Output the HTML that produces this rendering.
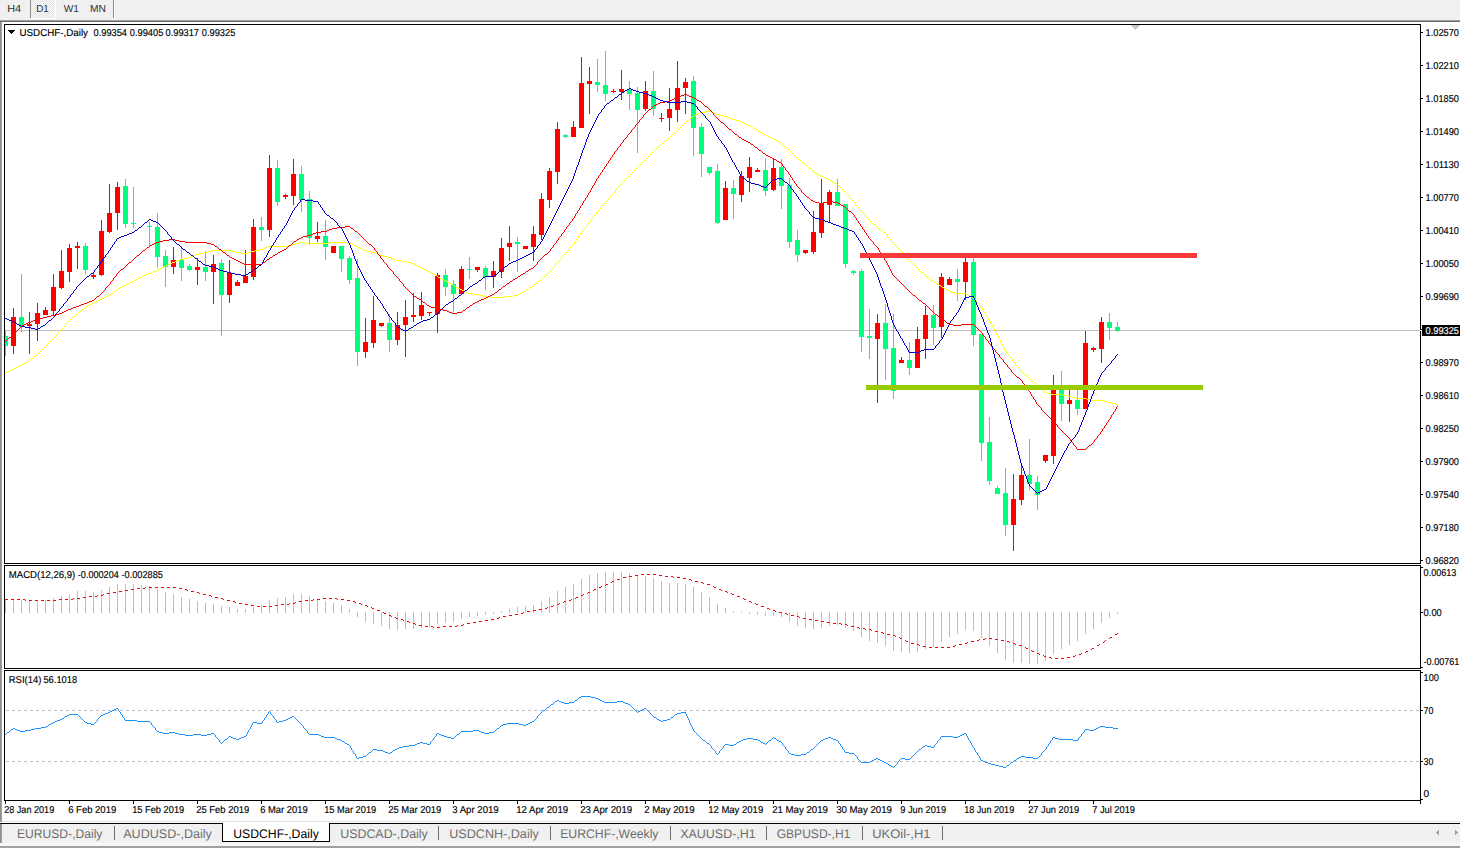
<!DOCTYPE html>
<html><head><meta charset="utf-8"><style>
html,body{margin:0;padding:0;background:#fff;width:1460px;height:848px;overflow:hidden}
svg{display:block;font-family:"Liberation Sans", sans-serif;text-rendering:geometricPrecision}
rect,line,polyline,polygon{shape-rendering:crispEdges}
</style></head><body>
<svg width="1460" height="848" viewBox="0 0 1460 848">
<defs>
<pattern id="dither" width="2" height="2" patternUnits="userSpaceOnUse"><rect width="2" height="2" fill="#f7f7f7"/><rect width="1" height="1" fill="#e6e6e6"/><rect x="1" y="1" width="1" height="1" fill="#e6e6e6"/></pattern>
<clipPath id="clipMain"><rect x="5" y="25" width="1415" height="538"/></clipPath>
<clipPath id="clipMacd"><rect x="5" y="566" width="1415" height="102"/></clipPath>
<clipPath id="clipRsi"><rect x="5" y="671" width="1415" height="129"/></clipPath>
</defs>
<rect x="0" y="0" width="1460" height="20" fill="#f0f0f0"/>
<rect x="0" y="20" width="1460" height="1" fill="#a0a0a0"/>
<rect x="0" y="21" width="1460" height="1" fill="#6d6d6d"/>
<rect x="0" y="22" width="2" height="800" fill="#a0a0a0"/>
<rect x="0" y="22" width="1" height="800" fill="#909090"/>
<rect x="30" y="0" width="1" height="18" fill="#8a8a8a"/>
<rect x="31" y="0" width="24" height="18" fill="url(#dither)"/>
<rect x="55" y="0" width="1" height="18" fill="#ffffff"/>
<rect x="31" y="18" width="25" height="1" fill="#ffffff"/>
<rect x="113" y="0" width="1" height="18" fill="#8a8a8a"/>
<rect x="114" y="0" width="1" height="18" fill="#ffffff"/>
<text x="7.2" y="12" font-size="10.2" fill="#303030" textLength="13.9" lengthAdjust="spacingAndGlyphs">H4</text>
<text x="36.199999999999996" y="12" font-size="10.2" fill="#303030" textLength="12.6" lengthAdjust="spacingAndGlyphs">D1</text>
<text x="63.699999999999996" y="12" font-size="10.2" fill="#303030" textLength="15.2" lengthAdjust="spacingAndGlyphs">W1</text>
<text x="90.0" y="12" font-size="10.2" fill="#303030" textLength="15.9" lengthAdjust="spacingAndGlyphs">MN</text>
<rect x="4" y="24" width="1417" height="1" fill="#000"/>
<rect x="4" y="563" width="1417" height="1" fill="#000"/>
<rect x="4" y="24" width="1" height="540" fill="#000"/>
<rect x="1420" y="24" width="1" height="540" fill="#000"/>
<rect x="4" y="565" width="1417" height="1" fill="#000"/>
<rect x="4" y="668" width="1417" height="1" fill="#000"/>
<rect x="4" y="565" width="1" height="104" fill="#000"/>
<rect x="1420" y="565" width="1" height="104" fill="#000"/>
<rect x="4" y="670" width="1417" height="1" fill="#000"/>
<rect x="4" y="800" width="1417" height="1" fill="#000"/>
<rect x="4" y="670" width="1" height="131" fill="#000"/>
<rect x="1420" y="670" width="1" height="131" fill="#000"/>
<g clip-path="url(#clipMain)">
<rect x="5" y="330" width="1415" height="1" fill="#c0c0c0"/>
<polygon points="1130,25 1140,25 1135,30" fill="#c8c8c8"/>
<rect x="5" y="330" width="1" height="26" fill="#00ff7f"/>
<rect x="3" y="336" width="5" height="10" fill="#00ff7f"/>
<rect x="13" y="308" width="1" height="46" fill="#ff0000"/>
<rect x="11" y="317" width="5" height="29" fill="#ff0000"/>
<rect x="21" y="274" width="1" height="58" fill="#00ff7f"/>
<rect x="19" y="317" width="5" height="10" fill="#00ff7f"/>
<rect x="29" y="312" width="1" height="42" fill="#ff0000"/>
<rect x="27" y="324" width="5" height="2" fill="#ff0000"/>
<rect x="37" y="303" width="1" height="38" fill="#ff0000"/>
<rect x="35" y="313" width="5" height="11" fill="#ff0000"/>
<rect x="45" y="307" width="1" height="8" fill="#ff0000"/>
<rect x="43" y="310" width="5" height="5" fill="#ff0000"/>
<rect x="53" y="274" width="1" height="42" fill="#ff0000"/>
<rect x="51" y="287" width="5" height="24" fill="#ff0000"/>
<rect x="61" y="250" width="1" height="39" fill="#ff0000"/>
<rect x="59" y="271" width="5" height="17" fill="#ff0000"/>
<rect x="69" y="244" width="1" height="38" fill="#ff0000"/>
<rect x="67" y="248" width="5" height="24" fill="#ff0000"/>
<rect x="77" y="242" width="1" height="27" fill="#ff0000"/>
<rect x="75" y="246" width="5" height="2" fill="#ff0000"/>
<rect x="85" y="243" width="1" height="31" fill="#00ff7f"/>
<rect x="83" y="246" width="5" height="24" fill="#00ff7f"/>
<rect x="93" y="272" width="1" height="7" fill="#ff0000"/>
<rect x="91" y="275" width="5" height="2" fill="#ff0000"/>
<rect x="101" y="220" width="1" height="56" fill="#ff0000"/>
<rect x="99" y="231" width="5" height="44" fill="#ff0000"/>
<rect x="109" y="184" width="1" height="49" fill="#ff0000"/>
<rect x="107" y="213" width="5" height="19" fill="#ff0000"/>
<rect x="117" y="182" width="1" height="48" fill="#ff0000"/>
<rect x="115" y="187" width="5" height="26" fill="#ff0000"/>
<rect x="125" y="179" width="1" height="49" fill="#00ff7f"/>
<rect x="123" y="186" width="5" height="38" fill="#00ff7f"/>
<rect x="133" y="187" width="1" height="41" fill="#00ff7f"/>
<rect x="131" y="223" width="5" height="1" fill="#00ff7f"/>
<rect x="149" y="222" width="1" height="25" fill="#00ff7f"/>
<rect x="147" y="226" width="5" height="1" fill="#00ff7f"/>
<rect x="157" y="213" width="1" height="55" fill="#00ff7f"/>
<rect x="155" y="227" width="5" height="30" fill="#00ff7f"/>
<rect x="165" y="250" width="1" height="37" fill="#00ff7f"/>
<rect x="163" y="256" width="5" height="11" fill="#00ff7f"/>
<rect x="173" y="247" width="1" height="27" fill="#ff0000"/>
<rect x="171" y="260" width="5" height="7" fill="#ff0000"/>
<rect x="181" y="246" width="1" height="35" fill="#00ff7f"/>
<rect x="179" y="260" width="5" height="8" fill="#00ff7f"/>
<rect x="189" y="264" width="1" height="7" fill="#00ff7f"/>
<rect x="187" y="266" width="5" height="4" fill="#00ff7f"/>
<rect x="197" y="258" width="1" height="27" fill="#ff0000"/>
<rect x="195" y="267" width="5" height="3" fill="#ff0000"/>
<rect x="205" y="251" width="1" height="30" fill="#00ff7f"/>
<rect x="203" y="267" width="5" height="5" fill="#00ff7f"/>
<rect x="213" y="255" width="1" height="49" fill="#ff0000"/>
<rect x="211" y="264" width="5" height="8" fill="#ff0000"/>
<rect x="221" y="259" width="1" height="77" fill="#00ff7f"/>
<rect x="219" y="263" width="5" height="32" fill="#00ff7f"/>
<rect x="229" y="260" width="1" height="43" fill="#ff0000"/>
<rect x="227" y="273" width="5" height="22" fill="#ff0000"/>
<rect x="237" y="280" width="1" height="6" fill="#ff0000"/>
<rect x="235" y="282" width="5" height="4" fill="#ff0000"/>
<rect x="245" y="250" width="1" height="33" fill="#ff0000"/>
<rect x="243" y="276" width="5" height="7" fill="#ff0000"/>
<rect x="253" y="219" width="1" height="61" fill="#ff0000"/>
<rect x="251" y="227" width="5" height="50" fill="#ff0000"/>
<rect x="261" y="217" width="1" height="24" fill="#00ff7f"/>
<rect x="259" y="227" width="5" height="3" fill="#00ff7f"/>
<rect x="269" y="155" width="1" height="82" fill="#ff0000"/>
<rect x="267" y="168" width="5" height="62" fill="#ff0000"/>
<rect x="277" y="160" width="1" height="46" fill="#00ff7f"/>
<rect x="275" y="168" width="5" height="34" fill="#00ff7f"/>
<rect x="285" y="194" width="1" height="5" fill="#ff0000"/>
<rect x="283" y="195" width="5" height="2" fill="#ff0000"/>
<rect x="293" y="159" width="1" height="46" fill="#ff0000"/>
<rect x="291" y="174" width="5" height="22" fill="#ff0000"/>
<rect x="301" y="166" width="1" height="46" fill="#00ff7f"/>
<rect x="299" y="174" width="5" height="26" fill="#00ff7f"/>
<rect x="309" y="191" width="1" height="54" fill="#00ff7f"/>
<rect x="307" y="199" width="5" height="39" fill="#00ff7f"/>
<rect x="317" y="222" width="1" height="20" fill="#ff0000"/>
<rect x="315" y="236" width="5" height="3" fill="#ff0000"/>
<rect x="325" y="220" width="1" height="40" fill="#00ff7f"/>
<rect x="323" y="236" width="5" height="11" fill="#00ff7f"/>
<rect x="333" y="246" width="1" height="7" fill="#ff0000"/>
<rect x="331" y="246" width="5" height="7" fill="#ff0000"/>
<rect x="341" y="246" width="1" height="26" fill="#00ff7f"/>
<rect x="339" y="246" width="5" height="13" fill="#00ff7f"/>
<rect x="349" y="256" width="1" height="28" fill="#00ff7f"/>
<rect x="347" y="258" width="5" height="22" fill="#00ff7f"/>
<rect x="357" y="259" width="1" height="107" fill="#00ff7f"/>
<rect x="355" y="278" width="5" height="74" fill="#00ff7f"/>
<rect x="365" y="318" width="1" height="40" fill="#ff0000"/>
<rect x="363" y="342" width="5" height="10" fill="#ff0000"/>
<rect x="373" y="296" width="1" height="52" fill="#ff0000"/>
<rect x="371" y="320" width="5" height="23" fill="#ff0000"/>
<rect x="381" y="323" width="1" height="4" fill="#ff0000"/>
<rect x="379" y="323" width="5" height="3" fill="#ff0000"/>
<rect x="389" y="314" width="1" height="38" fill="#00ff7f"/>
<rect x="387" y="323" width="5" height="17" fill="#00ff7f"/>
<rect x="397" y="312" width="1" height="33" fill="#ff0000"/>
<rect x="395" y="325" width="5" height="15" fill="#ff0000"/>
<rect x="405" y="300" width="1" height="57" fill="#ff0000"/>
<rect x="403" y="317" width="5" height="8" fill="#ff0000"/>
<rect x="413" y="293" width="1" height="29" fill="#ff0000"/>
<rect x="411" y="315" width="5" height="2" fill="#ff0000"/>
<rect x="421" y="292" width="1" height="28" fill="#ff0000"/>
<rect x="419" y="305" width="5" height="11" fill="#ff0000"/>
<rect x="429" y="312" width="1" height="4" fill="#ff0000"/>
<rect x="427" y="312" width="5" height="1" fill="#ff0000"/>
<rect x="437" y="273" width="1" height="60" fill="#ff0000"/>
<rect x="435" y="275" width="5" height="39" fill="#ff0000"/>
<rect x="445" y="269" width="1" height="27" fill="#00ff7f"/>
<rect x="443" y="275" width="5" height="12" fill="#00ff7f"/>
<rect x="453" y="280" width="1" height="32" fill="#00ff7f"/>
<rect x="451" y="284" width="5" height="10" fill="#00ff7f"/>
<rect x="461" y="266" width="1" height="28" fill="#ff0000"/>
<rect x="459" y="269" width="5" height="25" fill="#ff0000"/>
<rect x="469" y="257" width="1" height="22" fill="#00ff7f"/>
<rect x="467" y="269" width="5" height="1" fill="#00ff7f"/>
<rect x="477" y="267" width="1" height="5" fill="#ff0000"/>
<rect x="475" y="267" width="5" height="3" fill="#ff0000"/>
<rect x="485" y="266" width="1" height="24" fill="#00ff7f"/>
<rect x="483" y="268" width="5" height="9" fill="#00ff7f"/>
<rect x="493" y="261" width="1" height="27" fill="#ff0000"/>
<rect x="491" y="271" width="5" height="6" fill="#ff0000"/>
<rect x="501" y="238" width="1" height="40" fill="#ff0000"/>
<rect x="499" y="248" width="5" height="24" fill="#ff0000"/>
<rect x="509" y="226" width="1" height="35" fill="#ff0000"/>
<rect x="507" y="243" width="5" height="4" fill="#ff0000"/>
<rect x="517" y="237" width="1" height="35" fill="#00ff7f"/>
<rect x="515" y="242" width="5" height="2" fill="#00ff7f"/>
<rect x="525" y="246" width="1" height="3" fill="#ff0000"/>
<rect x="523" y="246" width="5" height="3" fill="#ff0000"/>
<rect x="533" y="226" width="1" height="35" fill="#ff0000"/>
<rect x="531" y="234" width="5" height="13" fill="#ff0000"/>
<rect x="541" y="193" width="1" height="47" fill="#ff0000"/>
<rect x="539" y="199" width="5" height="36" fill="#ff0000"/>
<rect x="549" y="168" width="1" height="40" fill="#ff0000"/>
<rect x="547" y="171" width="5" height="29" fill="#ff0000"/>
<rect x="557" y="122" width="1" height="62" fill="#ff0000"/>
<rect x="555" y="129" width="5" height="43" fill="#ff0000"/>
<rect x="565" y="134" width="1" height="4" fill="#00ff7f"/>
<rect x="563" y="135" width="5" height="2" fill="#00ff7f"/>
<rect x="573" y="121" width="1" height="16" fill="#ff0000"/>
<rect x="571" y="127" width="5" height="10" fill="#ff0000"/>
<rect x="581" y="57" width="1" height="71" fill="#ff0000"/>
<rect x="579" y="83" width="5" height="45" fill="#ff0000"/>
<rect x="589" y="67" width="1" height="47" fill="#ff0000"/>
<rect x="587" y="81" width="5" height="3" fill="#ff0000"/>
<rect x="597" y="59" width="1" height="33" fill="#00ff7f"/>
<rect x="595" y="82" width="5" height="3" fill="#00ff7f"/>
<rect x="605" y="51" width="1" height="50" fill="#00ff7f"/>
<rect x="603" y="85" width="5" height="9" fill="#00ff7f"/>
<rect x="613" y="89" width="1" height="4" fill="#ff0000"/>
<rect x="611" y="91" width="5" height="1" fill="#ff0000"/>
<rect x="621" y="70" width="1" height="30" fill="#ff0000"/>
<rect x="619" y="89" width="5" height="3" fill="#ff0000"/>
<rect x="629" y="81" width="1" height="29" fill="#00ff7f"/>
<rect x="627" y="89" width="5" height="5" fill="#00ff7f"/>
<rect x="637" y="87" width="1" height="66" fill="#00ff7f"/>
<rect x="635" y="93" width="5" height="17" fill="#00ff7f"/>
<rect x="645" y="81" width="1" height="30" fill="#ff0000"/>
<rect x="643" y="91" width="5" height="18" fill="#ff0000"/>
<rect x="653" y="71" width="1" height="45" fill="#00ff7f"/>
<rect x="651" y="91" width="5" height="18" fill="#00ff7f"/>
<rect x="661" y="113" width="1" height="9" fill="#ff0000"/>
<rect x="659" y="118" width="5" height="1" fill="#ff0000"/>
<rect x="669" y="88" width="1" height="43" fill="#ff0000"/>
<rect x="667" y="109" width="5" height="9" fill="#ff0000"/>
<rect x="677" y="61" width="1" height="61" fill="#ff0000"/>
<rect x="675" y="88" width="5" height="22" fill="#ff0000"/>
<rect x="685" y="78" width="1" height="36" fill="#ff0000"/>
<rect x="683" y="82" width="5" height="6" fill="#ff0000"/>
<rect x="693" y="76" width="1" height="80" fill="#00ff7f"/>
<rect x="691" y="81" width="5" height="47" fill="#00ff7f"/>
<rect x="701" y="123" width="1" height="54" fill="#00ff7f"/>
<rect x="699" y="127" width="5" height="27" fill="#00ff7f"/>
<rect x="709" y="167" width="1" height="8" fill="#00ff7f"/>
<rect x="707" y="167" width="5" height="6" fill="#00ff7f"/>
<rect x="717" y="164" width="1" height="60" fill="#00ff7f"/>
<rect x="715" y="171" width="5" height="52" fill="#00ff7f"/>
<rect x="725" y="181" width="1" height="39" fill="#ff0000"/>
<rect x="723" y="188" width="5" height="32" fill="#ff0000"/>
<rect x="733" y="180" width="1" height="39" fill="#00ff7f"/>
<rect x="731" y="188" width="5" height="6" fill="#00ff7f"/>
<rect x="741" y="171" width="1" height="31" fill="#ff0000"/>
<rect x="739" y="176" width="5" height="19" fill="#ff0000"/>
<rect x="749" y="157" width="1" height="35" fill="#ff0000"/>
<rect x="747" y="167" width="5" height="11" fill="#ff0000"/>
<rect x="757" y="168" width="1" height="4" fill="#ff0000"/>
<rect x="755" y="170" width="5" height="2" fill="#ff0000"/>
<rect x="765" y="158" width="1" height="38" fill="#00ff7f"/>
<rect x="763" y="170" width="5" height="21" fill="#00ff7f"/>
<rect x="773" y="159" width="1" height="32" fill="#ff0000"/>
<rect x="771" y="168" width="5" height="22" fill="#ff0000"/>
<rect x="781" y="159" width="1" height="50" fill="#00ff7f"/>
<rect x="779" y="167" width="5" height="19" fill="#00ff7f"/>
<rect x="789" y="178" width="1" height="70" fill="#00ff7f"/>
<rect x="787" y="185" width="5" height="57" fill="#00ff7f"/>
<rect x="797" y="230" width="1" height="32" fill="#00ff7f"/>
<rect x="795" y="240" width="5" height="15" fill="#00ff7f"/>
<rect x="805" y="250" width="1" height="4" fill="#ff0000"/>
<rect x="803" y="250" width="5" height="3" fill="#ff0000"/>
<rect x="813" y="211" width="1" height="43" fill="#ff0000"/>
<rect x="811" y="232" width="5" height="20" fill="#ff0000"/>
<rect x="821" y="179" width="1" height="59" fill="#ff0000"/>
<rect x="819" y="203" width="5" height="30" fill="#ff0000"/>
<rect x="829" y="190" width="1" height="32" fill="#ff0000"/>
<rect x="827" y="192" width="5" height="13" fill="#ff0000"/>
<rect x="837" y="179" width="1" height="27" fill="#00ff7f"/>
<rect x="835" y="192" width="5" height="14" fill="#00ff7f"/>
<rect x="845" y="204" width="1" height="64" fill="#00ff7f"/>
<rect x="843" y="204" width="5" height="60" fill="#00ff7f"/>
<rect x="853" y="270" width="1" height="5" fill="#00ff7f"/>
<rect x="851" y="271" width="5" height="2" fill="#00ff7f"/>
<rect x="861" y="269" width="1" height="83" fill="#00ff7f"/>
<rect x="859" y="271" width="5" height="66" fill="#00ff7f"/>
<rect x="869" y="309" width="1" height="50" fill="#00ff7f"/>
<rect x="867" y="336" width="5" height="2" fill="#00ff7f"/>
<rect x="877" y="314" width="1" height="89" fill="#ff0000"/>
<rect x="875" y="323" width="5" height="16" fill="#ff0000"/>
<rect x="885" y="304" width="1" height="76" fill="#00ff7f"/>
<rect x="883" y="323" width="5" height="26" fill="#00ff7f"/>
<rect x="893" y="314" width="1" height="85" fill="#00ff7f"/>
<rect x="891" y="348" width="5" height="43" fill="#00ff7f"/>
<rect x="901" y="357" width="1" height="6" fill="#ff0000"/>
<rect x="899" y="360" width="5" height="3" fill="#ff0000"/>
<rect x="909" y="342" width="1" height="33" fill="#00ff7f"/>
<rect x="907" y="360" width="5" height="8" fill="#00ff7f"/>
<rect x="917" y="327" width="1" height="41" fill="#ff0000"/>
<rect x="915" y="339" width="5" height="29" fill="#ff0000"/>
<rect x="925" y="306" width="1" height="53" fill="#ff0000"/>
<rect x="923" y="315" width="5" height="24" fill="#ff0000"/>
<rect x="933" y="305" width="1" height="40" fill="#00ff7f"/>
<rect x="931" y="315" width="5" height="13" fill="#00ff7f"/>
<rect x="941" y="273" width="1" height="65" fill="#ff0000"/>
<rect x="939" y="277" width="5" height="50" fill="#ff0000"/>
<rect x="949" y="277" width="1" height="8" fill="#ff0000"/>
<rect x="947" y="279" width="5" height="6" fill="#ff0000"/>
<rect x="957" y="269" width="1" height="32" fill="#00ff7f"/>
<rect x="955" y="279" width="5" height="3" fill="#00ff7f"/>
<rect x="965" y="258" width="1" height="42" fill="#ff0000"/>
<rect x="963" y="262" width="5" height="20" fill="#ff0000"/>
<rect x="973" y="258" width="1" height="88" fill="#00ff7f"/>
<rect x="971" y="262" width="5" height="73" fill="#00ff7f"/>
<rect x="981" y="334" width="1" height="127" fill="#00ff7f"/>
<rect x="979" y="334" width="5" height="109" fill="#00ff7f"/>
<rect x="989" y="417" width="1" height="68" fill="#00ff7f"/>
<rect x="987" y="442" width="5" height="39" fill="#00ff7f"/>
<rect x="997" y="486" width="1" height="8" fill="#00ff7f"/>
<rect x="995" y="488" width="5" height="6" fill="#00ff7f"/>
<rect x="1005" y="468" width="1" height="68" fill="#00ff7f"/>
<rect x="1003" y="493" width="5" height="32" fill="#00ff7f"/>
<rect x="1013" y="474" width="1" height="77" fill="#ff0000"/>
<rect x="1011" y="499" width="5" height="26" fill="#ff0000"/>
<rect x="1021" y="466" width="1" height="39" fill="#ff0000"/>
<rect x="1019" y="475" width="5" height="25" fill="#ff0000"/>
<rect x="1029" y="439" width="1" height="51" fill="#00ff7f"/>
<rect x="1027" y="475" width="5" height="9" fill="#00ff7f"/>
<rect x="1037" y="476" width="1" height="34" fill="#00ff7f"/>
<rect x="1035" y="482" width="5" height="13" fill="#00ff7f"/>
<rect x="1045" y="455" width="1" height="8" fill="#ff0000"/>
<rect x="1043" y="455" width="5" height="6" fill="#ff0000"/>
<rect x="1053" y="375" width="1" height="89" fill="#ff0000"/>
<rect x="1051" y="390" width="5" height="66" fill="#ff0000"/>
<rect x="1061" y="371" width="1" height="50" fill="#00ff7f"/>
<rect x="1059" y="386" width="5" height="18" fill="#00ff7f"/>
<rect x="1069" y="386" width="1" height="36" fill="#ff0000"/>
<rect x="1067" y="400" width="5" height="4" fill="#ff0000"/>
<rect x="1077" y="388" width="1" height="27" fill="#00ff7f"/>
<rect x="1075" y="400" width="5" height="9" fill="#00ff7f"/>
<rect x="1085" y="331" width="1" height="78" fill="#ff0000"/>
<rect x="1083" y="343" width="5" height="66" fill="#ff0000"/>
<rect x="1093" y="347" width="1" height="5" fill="#ff0000"/>
<rect x="1091" y="348" width="5" height="2" fill="#ff0000"/>
<rect x="1101" y="317" width="1" height="46" fill="#ff0000"/>
<rect x="1099" y="322" width="5" height="27" fill="#ff0000"/>
<rect x="1109" y="313" width="1" height="27" fill="#00ff7f"/>
<rect x="1107" y="322" width="5" height="6" fill="#00ff7f"/>
<rect x="1117" y="322" width="1" height="10" fill="#00ff7f"/>
<rect x="1115" y="327" width="5" height="4" fill="#00ff7f"/>
<path d="M705 111h6v1h-6zM700 112h5v1h-5zM711 112h2v1h-2zM698 113h2v1h-2zM713 113h3v1h-3zM696 114h2v1h-2zM716 114h3v1h-3zM694 115h2v1h-2zM719 115h4v1h-4zM693 116h1v1h-1zM723 116h4v1h-4zM691 117h2v1h-2zM727 117h2v1h-2zM690 118h1v1h-1zM729 118h3v1h-3zM689 119h1v1h-1zM732 119h3v1h-3zM687 120h2v1h-2zM735 120h4v1h-4zM686 121h1v1h-1zM739 121h3v1h-3zM685 122h1v1h-1zM742 122h2v1h-2zM684 123h1v1h-1zM744 123h2v1h-2zM683 124h1v1h-1zM746 124h2v1h-2zM682 125h1v1h-1zM748 125h2v1h-2zM681 126h1v1h-1zM750 126h2v1h-2zM680 127h1v1h-1zM752 127h1v1h-1zM679 128h1v1h-1zM753 128h2v1h-2zM678 129h1v1h-1zM755 129h2v1h-2zM677 130h1v1h-1zM757 130h1v1h-1zM676 131h1v1h-1zM758 131h2v1h-2zM675 132h1v1h-1zM760 132h1v1h-1zM673 133h2v1h-2zM761 133h2v1h-2zM672 134h1v1h-1zM763 134h2v1h-2zM671 135h1v1h-1zM765 135h2v1h-2zM670 136h1v1h-1zM767 136h2v1h-2zM669 137h1v1h-1zM769 137h3v1h-3zM668 138h1v1h-1zM772 138h2v1h-2zM667 139h1v1h-1zM774 139h2v1h-2zM665 140h2v1h-2zM776 140h1v1h-1zM664 141h1v1h-1zM777 141h2v1h-2zM663 142h1v1h-1zM779 142h2v1h-2zM662 143h1v1h-1zM781 143h1v1h-1zM661 144h1v1h-1zM782 144h1v1h-1zM660 145h1v1h-1zM783 145h1v1h-1zM659 146h1v1h-1zM784 146h1v1h-1zM657 147h2v1h-2zM785 147h2v1h-2zM656 148h1v1h-1zM787 148h1v1h-1zM655 149h1v1h-1zM788 149h1v1h-1zM654 150h1v1h-1zM789 150h1v1h-1zM653 151h1v1h-1zM790 151h1v1h-1zM652 152h1v1h-1zM791 152h1v1h-1zM651 153h1v1h-1zM792 153h1v1h-1zM650 154h1v1h-1zM793 154h1v1h-1zM649 155h1v1h-1zM794 155h1v1h-1zM648 156h1v1h-1zM795 156h1v1h-1zM647 157h1v1h-1zM796 157h1v1h-1zM646 158h1v1h-1zM797 158h1v1h-1zM645 159h1v1h-1zM798 159h1v1h-1zM644 160h1v1h-1zM799 160h2v1h-2zM643 161h1v1h-1zM801 161h1v1h-1zM642 162h1v1h-1zM802 162h1v1h-1zM641 163h1v1h-1zM803 163h2v1h-2zM640 164h1v1h-1zM805 164h1v1h-1zM639 165h1v1h-1zM806 165h1v1h-1zM638 166h1v1h-1zM807 166h1v1h-1zM637 167h1v1h-1zM808 167h1v1h-1zM636 168h1v1h-1zM809 168h2v1h-2zM635 169h1v1h-1zM811 169h1v1h-1zM634 170h1v1h-1zM812 170h1v1h-1zM633 171h1v1h-1zM813 171h1v1h-1zM632 172h1v1h-1zM814 172h2v1h-2zM631 173h1v1h-1zM816 173h1v1h-1zM630 174h1v1h-1zM817 174h2v1h-2zM629 175h1v1h-1zM819 175h2v1h-2zM628 176h1v1h-1zM821 176h2v1h-2zM627 177h1v1h-1zM823 177h2v1h-2zM626 178h1v1h-1zM825 178h3v1h-3zM625 179h1v1h-1zM828 179h2v1h-2zM624 180h1v1h-1zM830 180h2v1h-2zM623 181h1v1h-1zM832 181h1v1h-1zM622 182h1v1h-1zM833 182h2v1h-2zM621 183h1v1h-1zM835 183h2v1h-2zM620 184h1v1h-1zM837 184h1v1h-1zM619 185h1v1h-1zM838 185h1v1h-1zM619 186h1v1h-1zM839 186h1v1h-1zM618 187h1v1h-1zM840 187h1v1h-1zM617 188h1v1h-1zM841 188h1v1h-1zM616 189h1v1h-1zM842 189h1v1h-1zM615 190h1v1h-1zM843 190h1v1h-1zM615 191h1v1h-1zM844 191h1v1h-1zM614 192h1v1h-1zM845 192h1v1h-1zM613 193h1v1h-1zM846 193h1v1h-1zM612 194h1v1h-1zM847 194h1v1h-1zM611 195h1v1h-1zM848 195h1v1h-1zM610 196h1v1h-1zM849 196h1v1h-1zM609 197h1v1h-1zM849 197h1v1h-1zM609 198h1v1h-1zM850 198h1v1h-1zM608 199h1v1h-1zM851 199h1v1h-1zM607 200h1v1h-1zM852 200h1v1h-1zM606 201h1v1h-1zM853 201h1v1h-1zM605 202h1v1h-1zM854 202h1v1h-1zM604 203h1v1h-1zM855 203h1v1h-1zM603 204h1v1h-1zM855 204h1v1h-1zM602 205h1v1h-1zM856 205h1v1h-1zM601 206h1v1h-1zM857 206h1v1h-1zM601 207h1v1h-1zM858 207h1v1h-1zM600 208h1v1h-1zM859 208h1v1h-1zM599 209h1v1h-1zM859 209h1v1h-1zM598 210h1v1h-1zM860 210h1v1h-1zM597 211h1v1h-1zM861 211h1v1h-1zM596 212h1v1h-1zM862 212h1v1h-1zM596 213h1v1h-1zM863 213h1v1h-1zM595 214h1v1h-1zM864 214h1v1h-1zM594 215h1v1h-1zM865 215h1v1h-1zM593 216h1v1h-1zM865 216h1v1h-1zM593 217h1v1h-1zM866 217h1v1h-1zM592 218h1v1h-1zM867 218h1v1h-1zM591 219h1v1h-1zM868 219h1v1h-1zM590 220h1v1h-1zM869 220h1v1h-1zM590 221h1v1h-1zM870 221h1v1h-1zM589 222h1v1h-1zM871 222h1v1h-1zM588 223h1v1h-1zM872 223h1v1h-1zM587 224h1v1h-1zM873 224h2v1h-2zM587 225h1v1h-1zM875 225h1v1h-1zM586 226h1v1h-1zM876 226h1v1h-1zM585 227h1v1h-1zM877 227h1v1h-1zM584 228h1v1h-1zM878 228h1v1h-1zM583 229h1v1h-1zM879 229h2v1h-2zM583 230h1v1h-1zM881 230h1v1h-1zM582 231h1v1h-1zM882 231h1v1h-1zM581 232h1v1h-1zM883 232h2v1h-2zM580 233h1v1h-1zM885 233h1v1h-1zM580 234h1v1h-1zM886 234h1v1h-1zM579 235h1v1h-1zM887 235h1v1h-1zM578 236h1v1h-1zM887 236h1v1h-1zM578 237h1v1h-1zM888 237h1v1h-1zM577 238h1v1h-1zM889 238h1v1h-1zM576 239h1v1h-1zM890 239h1v1h-1zM576 240h1v1h-1zM891 240h1v1h-1zM575 241h1v1h-1zM891 241h1v1h-1zM299 242h6v1h-6zM329 242h21v1h-21zM574 242h1v1h-1zM892 242h1v1h-1zM295 243h4v1h-4zM305 243h24v1h-24zM350 243h2v1h-2zM574 243h1v1h-1zM893 243h1v1h-1zM291 244h4v1h-4zM352 244h2v1h-2zM573 244h1v1h-1zM894 244h1v1h-1zM287 245h4v1h-4zM354 245h2v1h-2zM572 245h1v1h-1zM895 245h1v1h-1zM268 246h19v1h-19zM356 246h2v1h-2zM571 246h1v1h-1zM896 246h1v1h-1zM265 247h3v1h-3zM358 247h2v1h-2zM570 247h1v1h-1zM897 247h1v1h-1zM263 248h2v1h-2zM360 248h2v1h-2zM569 248h1v1h-1zM898 248h1v1h-1zM259 249h4v1h-4zM362 249h2v1h-2zM569 249h1v1h-1zM899 249h1v1h-1zM211 250h20v1h-20zM255 250h4v1h-4zM364 250h3v1h-3zM568 250h1v1h-1zM900 250h1v1h-1zM207 251h4v1h-4zM231 251h4v1h-4zM251 251h4v1h-4zM367 251h4v1h-4zM567 251h1v1h-1zM901 251h1v1h-1zM203 252h4v1h-4zM235 252h6v1h-6zM247 252h4v1h-4zM371 252h4v1h-4zM566 252h1v1h-1zM902 252h1v1h-1zM199 253h4v1h-4zM241 253h6v1h-6zM375 253h2v1h-2zM565 253h1v1h-1zM903 253h1v1h-1zM196 254h3v1h-3zM377 254h3v1h-3zM564 254h1v1h-1zM904 254h1v1h-1zM193 255h3v1h-3zM380 255h3v1h-3zM563 255h1v1h-1zM905 255h1v1h-1zM191 256h2v1h-2zM383 256h4v1h-4zM562 256h1v1h-1zM905 256h1v1h-1zM187 257h4v1h-4zM387 257h4v1h-4zM561 257h1v1h-1zM906 257h1v1h-1zM183 258h4v1h-4zM391 258h2v1h-2zM561 258h1v1h-1zM907 258h1v1h-1zM180 259h3v1h-3zM393 259h3v1h-3zM560 259h1v1h-1zM908 259h1v1h-1zM177 260h3v1h-3zM396 260h5v1h-5zM559 260h1v1h-1zM909 260h1v1h-1zM175 261h2v1h-2zM401 261h6v1h-6zM558 261h1v1h-1zM910 261h1v1h-1zM172 262h3v1h-3zM407 262h4v1h-4zM557 262h1v1h-1zM911 262h1v1h-1zM170 263h2v1h-2zM411 263h3v1h-3zM556 263h1v1h-1zM912 263h1v1h-1zM168 264h2v1h-2zM414 264h2v1h-2zM555 264h1v1h-1zM913 264h1v1h-1zM166 265h2v1h-2zM416 265h2v1h-2zM555 265h1v1h-1zM914 265h1v1h-1zM164 266h2v1h-2zM418 266h2v1h-2zM554 266h1v1h-1zM915 266h1v1h-1zM162 267h2v1h-2zM420 267h2v1h-2zM553 267h1v1h-1zM916 267h1v1h-1zM160 268h2v1h-2zM422 268h2v1h-2zM552 268h1v1h-1zM917 268h1v1h-1zM158 269h2v1h-2zM424 269h2v1h-2zM551 269h1v1h-1zM918 269h1v1h-1zM156 270h2v1h-2zM426 270h2v1h-2zM551 270h1v1h-1zM919 270h1v1h-1zM153 271h3v1h-3zM428 271h2v1h-2zM550 271h1v1h-1zM920 271h1v1h-1zM151 272h2v1h-2zM430 272h2v1h-2zM549 272h1v1h-1zM921 272h2v1h-2zM148 273h3v1h-3zM432 273h1v1h-1zM548 273h1v1h-1zM923 273h1v1h-1zM146 274h2v1h-2zM433 274h2v1h-2zM547 274h1v1h-1zM924 274h1v1h-1zM144 275h2v1h-2zM435 275h2v1h-2zM545 275h2v1h-2zM925 275h1v1h-1zM142 276h2v1h-2zM437 276h1v1h-1zM544 276h1v1h-1zM926 276h1v1h-1zM140 277h2v1h-2zM438 277h2v1h-2zM543 277h1v1h-1zM927 277h2v1h-2zM138 278h2v1h-2zM440 278h2v1h-2zM542 278h1v1h-1zM929 278h1v1h-1zM136 279h2v1h-2zM442 279h2v1h-2zM541 279h1v1h-1zM930 279h1v1h-1zM134 280h2v1h-2zM444 280h2v1h-2zM539 280h2v1h-2zM931 280h2v1h-2zM132 281h2v1h-2zM446 281h2v1h-2zM538 281h1v1h-1zM933 281h1v1h-1zM130 282h2v1h-2zM448 282h1v1h-1zM537 282h1v1h-1zM934 282h2v1h-2zM128 283h2v1h-2zM449 283h2v1h-2zM535 283h2v1h-2zM936 283h1v1h-1zM126 284h2v1h-2zM451 284h2v1h-2zM534 284h1v1h-1zM937 284h2v1h-2zM124 285h2v1h-2zM453 285h1v1h-1zM533 285h1v1h-1zM939 285h2v1h-2zM122 286h2v1h-2zM454 286h2v1h-2zM531 286h2v1h-2zM941 286h1v1h-1zM120 287h2v1h-2zM456 287h2v1h-2zM529 287h2v1h-2zM942 287h2v1h-2zM118 288h2v1h-2zM458 288h2v1h-2zM528 288h1v1h-1zM944 288h1v1h-1zM117 289h1v1h-1zM460 289h2v1h-2zM526 289h2v1h-2zM945 289h2v1h-2zM115 290h2v1h-2zM462 290h2v1h-2zM525 290h1v1h-1zM947 290h2v1h-2zM114 291h1v1h-1zM464 291h2v1h-2zM523 291h2v1h-2zM949 291h2v1h-2zM113 292h1v1h-1zM466 292h2v1h-2zM521 292h2v1h-2zM951 292h4v1h-4zM111 293h2v1h-2zM468 293h5v1h-5zM520 293h1v1h-1zM955 293h11v1h-11zM110 294h1v1h-1zM473 294h6v1h-6zM518 294h2v1h-2zM966 294h2v1h-2zM108 295h2v1h-2zM479 295h4v1h-4zM513 295h5v1h-5zM968 295h2v1h-2zM106 296h2v1h-2zM483 296h6v1h-6zM505 296h8v1h-8zM970 296h2v1h-2zM104 297h2v1h-2zM489 297h16v1h-16zM972 297h2v1h-2zM102 298h2v1h-2zM974 298h1v1h-1zM100 299h2v1h-2zM975 299h1v1h-1zM98 300h2v1h-2zM975 300h1v1h-1zM96 301h2v1h-2zM976 301h1v1h-1zM94 302h2v1h-2zM977 302h1v1h-1zM92 303h2v1h-2zM978 303h1v1h-1zM90 304h2v1h-2zM979 304h1v1h-1zM88 305h2v1h-2zM979 305h1v1h-1zM86 306h2v1h-2zM980 306h1v1h-1zM85 307h1v1h-1zM981 307h1v1h-1zM83 308h2v1h-2zM982 308h1v1h-1zM82 309h1v1h-1zM982 309h1v1h-1zM81 310h1v1h-1zM983 310h1v1h-1zM79 311h2v1h-2zM983 311h1v1h-1zM78 312h1v1h-1zM984 312h1v1h-1zM77 313h1v1h-1zM985 313h1v1h-1zM76 314h1v1h-1zM985 314h1v1h-1zM75 315h1v1h-1zM986 315h1v1h-1zM73 316h2v1h-2zM987 316h1v1h-1zM72 317h1v1h-1zM987 317h1v1h-1zM71 318h1v1h-1zM988 318h1v1h-1zM70 319h1v1h-1zM988 319h1v1h-1zM69 320h1v1h-1zM989 320h1v1h-1zM68 321h1v1h-1zM990 321h1v1h-1zM67 322h1v1h-1zM990 322h1v1h-1zM66 323h1v1h-1zM991 323h1v1h-1zM65 324h1v1h-1zM991 324h1v1h-1zM65 325h1v1h-1zM992 325h1v1h-1zM64 326h1v1h-1zM992 326h1v1h-1zM63 327h1v1h-1zM993 327h1v1h-1zM62 328h1v1h-1zM993 328h1v1h-1zM61 329h1v1h-1zM994 329h1v1h-1zM60 330h1v1h-1zM994 330h1v1h-1zM59 331h1v1h-1zM995 331h1v1h-1zM58 332h1v1h-1zM995 332h1v1h-1zM57 333h1v1h-1zM996 333h1v1h-1zM57 334h1v1h-1zM996 334h1v1h-1zM56 335h1v1h-1zM997 335h1v1h-1zM55 336h1v1h-1zM998 336h1v1h-1zM54 337h1v1h-1zM998 337h1v1h-1zM53 338h1v1h-1zM999 338h1v1h-1zM52 339h1v1h-1zM999 339h1v1h-1zM51 340h1v1h-1zM1000 340h1v1h-1zM50 341h1v1h-1zM1000 341h1v1h-1zM49 342h1v1h-1zM1001 342h1v1h-1zM48 343h1v1h-1zM1001 343h1v1h-1zM47 344h1v1h-1zM1002 344h1v1h-1zM46 345h1v1h-1zM1002 345h1v1h-1zM45 346h1v1h-1zM1003 346h1v1h-1zM44 347h1v1h-1zM1003 347h1v1h-1zM43 348h1v1h-1zM1004 348h1v1h-1zM42 349h1v1h-1zM1004 349h1v1h-1zM41 350h1v1h-1zM1005 350h1v1h-1zM40 351h1v1h-1zM1006 351h1v1h-1zM39 352h1v1h-1zM1006 352h1v1h-1zM38 353h1v1h-1zM1007 353h1v1h-1zM37 354h1v1h-1zM1008 354h1v1h-1zM35 355h2v1h-2zM1009 355h1v1h-1zM34 356h1v1h-1zM1009 356h1v1h-1zM33 357h1v1h-1zM1010 357h1v1h-1zM31 358h2v1h-2zM1011 358h1v1h-1zM30 359h1v1h-1zM1012 359h1v1h-1zM29 360h1v1h-1zM1012 360h1v1h-1zM27 361h2v1h-2zM1013 361h1v1h-1zM25 362h2v1h-2zM1014 362h1v1h-1zM24 363h1v1h-1zM1015 363h1v1h-1zM22 364h2v1h-2zM1015 364h1v1h-1zM20 365h2v1h-2zM1016 365h1v1h-1zM18 366h2v1h-2zM1017 366h1v1h-1zM16 367h2v1h-2zM1018 367h1v1h-1zM14 368h2v1h-2zM1019 368h1v1h-1zM12 369h2v1h-2zM1019 369h1v1h-1zM9 370h3v1h-3zM1020 370h1v1h-1zM7 371h2v1h-2zM1021 371h1v1h-1zM5 372h2v1h-2zM1022 372h1v1h-1zM1023 373h1v1h-1zM1024 374h1v1h-1zM1025 375h2v1h-2zM1027 376h1v1h-1zM1028 377h1v1h-1zM1029 378h1v1h-1zM1030 379h1v1h-1zM1031 380h1v1h-1zM1032 381h1v1h-1zM1033 382h2v1h-2zM1035 383h1v1h-1zM1036 384h1v1h-1zM1037 385h1v1h-1zM1038 386h1v1h-1zM1039 387h1v1h-1zM1040 388h1v1h-1zM1041 389h2v1h-2zM1043 390h1v1h-1zM1044 391h1v1h-1zM1045 392h2v1h-2zM1047 393h4v1h-4zM1051 394h12v1h-12zM1063 395h4v1h-4zM1067 396h4v1h-4zM1071 397h4v1h-4zM1075 398h12v1h-12zM1087 399h4v1h-4zM1091 400h12v1h-12zM1103 401h4v1h-4zM1107 402h4v1h-4zM1111 403h4v1h-4zM1115 404h3v1h-3z" fill="#ffff00"/>
<path d="M684 94h3v1h-3zM681 95h3v1h-3zM687 95h2v1h-2zM679 96h2v1h-2zM689 96h3v1h-3zM676 97h3v1h-3zM692 97h2v1h-2zM674 98h2v1h-2zM694 98h2v1h-2zM672 99h2v1h-2zM696 99h1v1h-1zM670 100h2v1h-2zM697 100h2v1h-2zM665 101h5v1h-5zM699 101h2v1h-2zM660 102h5v1h-5zM701 102h1v1h-1zM658 103h2v1h-2zM702 103h1v1h-1zM656 104h2v1h-2zM703 104h1v1h-1zM654 105h2v1h-2zM704 105h1v1h-1zM653 106h1v1h-1zM705 106h2v1h-2zM652 107h1v1h-1zM707 107h1v1h-1zM651 108h1v1h-1zM708 108h1v1h-1zM649 109h2v1h-2zM709 109h1v1h-1zM648 110h1v1h-1zM710 110h1v1h-1zM647 111h1v1h-1zM711 111h1v1h-1zM646 112h1v1h-1zM712 112h1v1h-1zM645 113h1v1h-1zM713 113h1v1h-1zM644 114h1v1h-1zM713 114h1v1h-1zM643 115h1v1h-1zM714 115h1v1h-1zM643 116h1v1h-1zM715 116h1v1h-1zM642 117h1v1h-1zM716 117h1v1h-1zM641 118h1v1h-1zM717 118h1v1h-1zM640 119h1v1h-1zM718 119h1v1h-1zM639 120h1v1h-1zM719 120h1v1h-1zM639 121h1v1h-1zM720 121h1v1h-1zM638 122h1v1h-1zM721 122h2v1h-2zM637 123h1v1h-1zM723 123h1v1h-1zM636 124h1v1h-1zM724 124h1v1h-1zM635 125h1v1h-1zM725 125h1v1h-1zM635 126h1v1h-1zM726 126h1v1h-1zM634 127h1v1h-1zM727 127h1v1h-1zM633 128h1v1h-1zM728 128h1v1h-1zM632 129h1v1h-1zM729 129h2v1h-2zM631 130h1v1h-1zM731 130h1v1h-1zM631 131h1v1h-1zM732 131h1v1h-1zM630 132h1v1h-1zM733 132h1v1h-1zM629 133h1v1h-1zM734 133h1v1h-1zM628 134h1v1h-1zM735 134h2v1h-2zM627 135h1v1h-1zM737 135h1v1h-1zM627 136h1v1h-1zM738 136h1v1h-1zM626 137h1v1h-1zM739 137h2v1h-2zM625 138h1v1h-1zM741 138h1v1h-1zM624 139h1v1h-1zM742 139h2v1h-2zM623 140h1v1h-1zM744 140h2v1h-2zM623 141h1v1h-1zM746 141h2v1h-2zM622 142h1v1h-1zM748 142h2v1h-2zM621 143h1v1h-1zM750 143h1v1h-1zM620 144h1v1h-1zM751 144h2v1h-2zM620 145h1v1h-1zM753 145h1v1h-1zM619 146h1v1h-1zM754 146h1v1h-1zM618 147h1v1h-1zM755 147h2v1h-2zM617 148h1v1h-1zM757 148h1v1h-1zM617 149h1v1h-1zM758 149h1v1h-1zM616 150h1v1h-1zM759 150h2v1h-2zM615 151h1v1h-1zM761 151h1v1h-1zM614 152h1v1h-1zM762 152h1v1h-1zM614 153h1v1h-1zM763 153h2v1h-2zM613 154h1v1h-1zM765 154h1v1h-1zM612 155h1v1h-1zM766 155h2v1h-2zM612 156h1v1h-1zM768 156h2v1h-2zM611 157h1v1h-1zM770 157h2v1h-2zM610 158h1v1h-1zM772 158h2v1h-2zM610 159h1v1h-1zM774 159h2v1h-2zM609 160h1v1h-1zM776 160h1v1h-1zM608 161h1v1h-1zM777 161h2v1h-2zM608 162h1v1h-1zM779 162h2v1h-2zM607 163h1v1h-1zM781 163h1v1h-1zM606 164h1v1h-1zM782 164h1v1h-1zM606 165h1v1h-1zM782 165h1v1h-1zM605 166h1v1h-1zM783 166h1v1h-1zM604 167h1v1h-1zM784 167h1v1h-1zM604 168h1v1h-1zM785 168h1v1h-1zM603 169h1v1h-1zM785 169h1v1h-1zM602 170h1v1h-1zM786 170h1v1h-1zM602 171h1v1h-1zM787 171h1v1h-1zM601 172h1v1h-1zM788 172h1v1h-1zM600 173h1v1h-1zM788 173h1v1h-1zM600 174h1v1h-1zM789 174h1v1h-1zM599 175h1v1h-1zM790 175h1v1h-1zM598 176h1v1h-1zM790 176h1v1h-1zM598 177h1v1h-1zM791 177h1v1h-1zM597 178h1v1h-1zM792 178h1v1h-1zM596 179h1v1h-1zM792 179h1v1h-1zM596 180h1v1h-1zM793 180h1v1h-1zM595 181h1v1h-1zM794 181h1v1h-1zM595 182h1v1h-1zM794 182h1v1h-1zM594 183h1v1h-1zM795 183h1v1h-1zM594 184h1v1h-1zM796 184h1v1h-1zM593 185h1v1h-1zM796 185h1v1h-1zM592 186h1v1h-1zM797 186h1v1h-1zM592 187h1v1h-1zM798 187h1v1h-1zM591 188h1v1h-1zM799 188h1v1h-1zM591 189h1v1h-1zM800 189h1v1h-1zM590 190h1v1h-1zM801 190h1v1h-1zM590 191h1v1h-1zM801 191h1v1h-1zM589 192h1v1h-1zM802 192h1v1h-1zM588 193h1v1h-1zM803 193h1v1h-1zM588 194h1v1h-1zM804 194h1v1h-1zM587 195h1v1h-1zM805 195h1v1h-1zM587 196h1v1h-1zM806 196h1v1h-1zM586 197h1v1h-1zM807 197h2v1h-2zM585 198h1v1h-1zM809 198h1v1h-1zM585 199h1v1h-1zM810 199h1v1h-1zM584 200h1v1h-1zM811 200h2v1h-2zM583 201h1v1h-1zM813 201h2v1h-2zM827 201h6v1h-6zM583 202h1v1h-1zM815 202h4v1h-4zM823 202h4v1h-4zM833 202h5v1h-5zM582 203h1v1h-1zM819 203h4v1h-4zM838 203h2v1h-2zM582 204h1v1h-1zM840 204h1v1h-1zM581 205h1v1h-1zM841 205h2v1h-2zM580 206h1v1h-1zM843 206h2v1h-2zM580 207h1v1h-1zM845 207h1v1h-1zM579 208h1v1h-1zM846 208h1v1h-1zM579 209h1v1h-1zM847 209h1v1h-1zM578 210h1v1h-1zM848 210h1v1h-1zM577 211h1v1h-1zM849 211h2v1h-2zM577 212h1v1h-1zM851 212h1v1h-1zM576 213h1v1h-1zM852 213h1v1h-1zM575 214h1v1h-1zM853 214h1v1h-1zM575 215h1v1h-1zM854 215h1v1h-1zM574 216h1v1h-1zM854 216h1v1h-1zM574 217h1v1h-1zM855 217h1v1h-1zM573 218h1v1h-1zM856 218h1v1h-1zM572 219h1v1h-1zM856 219h1v1h-1zM572 220h1v1h-1zM857 220h1v1h-1zM571 221h1v1h-1zM858 221h1v1h-1zM570 222h1v1h-1zM858 222h1v1h-1zM569 223h1v1h-1zM859 223h1v1h-1zM569 224h1v1h-1zM860 224h1v1h-1zM568 225h1v1h-1zM860 225h1v1h-1zM345 226h5v1h-5zM567 226h1v1h-1zM861 226h1v1h-1zM337 227h8v1h-8zM350 227h1v1h-1zM566 227h1v1h-1zM862 227h1v1h-1zM332 228h5v1h-5zM351 228h2v1h-2zM566 228h1v1h-1zM862 228h1v1h-1zM329 229h3v1h-3zM353 229h1v1h-1zM565 229h1v1h-1zM863 229h1v1h-1zM327 230h2v1h-2zM354 230h1v1h-1zM564 230h1v1h-1zM864 230h1v1h-1zM321 231h6v1h-6zM355 231h2v1h-2zM564 231h1v1h-1zM864 231h1v1h-1zM316 232h5v1h-5zM357 232h1v1h-1zM563 232h1v1h-1zM865 232h1v1h-1zM313 233h3v1h-3zM358 233h1v1h-1zM562 233h1v1h-1zM866 233h1v1h-1zM311 234h2v1h-2zM359 234h1v1h-1zM561 234h1v1h-1zM866 234h1v1h-1zM307 235h4v1h-4zM360 235h1v1h-1zM561 235h1v1h-1zM867 235h1v1h-1zM303 236h4v1h-4zM361 236h1v1h-1zM560 236h1v1h-1zM868 236h1v1h-1zM301 237h2v1h-2zM362 237h1v1h-1zM559 237h1v1h-1zM868 237h1v1h-1zM299 238h2v1h-2zM363 238h1v1h-1zM558 238h1v1h-1zM869 238h1v1h-1zM169 239h6v1h-6zM297 239h2v1h-2zM364 239h1v1h-1zM558 239h1v1h-1zM870 239h1v1h-1zM163 240h6v1h-6zM175 240h4v1h-4zM296 240h1v1h-1zM365 240h1v1h-1zM557 240h1v1h-1zM871 240h1v1h-1zM159 241h4v1h-4zM179 241h6v1h-6zM294 241h2v1h-2zM366 241h1v1h-1zM556 241h1v1h-1zM872 241h1v1h-1zM156 242h3v1h-3zM185 242h22v1h-22zM293 242h1v1h-1zM367 242h1v1h-1zM556 242h1v1h-1zM873 242h1v1h-1zM154 243h2v1h-2zM207 243h4v1h-4zM292 243h1v1h-1zM368 243h1v1h-1zM555 243h1v1h-1zM873 243h1v1h-1zM152 244h2v1h-2zM211 244h3v1h-3zM291 244h1v1h-1zM369 244h2v1h-2zM554 244h1v1h-1zM874 244h1v1h-1zM150 245h2v1h-2zM214 245h1v1h-1zM289 245h2v1h-2zM371 245h1v1h-1zM553 245h1v1h-1zM875 245h1v1h-1zM149 246h1v1h-1zM215 246h2v1h-2zM288 246h1v1h-1zM372 246h1v1h-1zM553 246h1v1h-1zM876 246h1v1h-1zM147 247h2v1h-2zM217 247h1v1h-1zM287 247h1v1h-1zM373 247h1v1h-1zM552 247h1v1h-1zM877 247h1v1h-1zM146 248h1v1h-1zM218 248h1v1h-1zM286 248h1v1h-1zM374 248h1v1h-1zM551 248h1v1h-1zM878 248h1v1h-1zM145 249h1v1h-1zM219 249h2v1h-2zM284 249h2v1h-2zM374 249h1v1h-1zM550 249h1v1h-1zM878 249h1v1h-1zM143 250h2v1h-2zM221 250h1v1h-1zM282 250h2v1h-2zM375 250h1v1h-1zM550 250h1v1h-1zM879 250h1v1h-1zM142 251h1v1h-1zM222 251h1v1h-1zM280 251h2v1h-2zM376 251h1v1h-1zM549 251h1v1h-1zM879 251h1v1h-1zM141 252h1v1h-1zM223 252h2v1h-2zM278 252h2v1h-2zM377 252h1v1h-1zM548 252h1v1h-1zM880 252h1v1h-1zM140 253h1v1h-1zM225 253h1v1h-1zM277 253h1v1h-1zM377 253h1v1h-1zM547 253h1v1h-1zM881 253h1v1h-1zM139 254h1v1h-1zM226 254h1v1h-1zM275 254h2v1h-2zM378 254h1v1h-1zM545 254h2v1h-2zM881 254h1v1h-1zM137 255h2v1h-2zM227 255h2v1h-2zM273 255h2v1h-2zM379 255h1v1h-1zM544 255h1v1h-1zM882 255h1v1h-1zM136 256h1v1h-1zM229 256h1v1h-1zM272 256h1v1h-1zM380 256h1v1h-1zM543 256h1v1h-1zM883 256h1v1h-1zM135 257h1v1h-1zM230 257h2v1h-2zM270 257h2v1h-2zM380 257h1v1h-1zM542 257h1v1h-1zM883 257h1v1h-1zM134 258h1v1h-1zM232 258h2v1h-2zM269 258h1v1h-1zM381 258h1v1h-1zM541 258h1v1h-1zM884 258h1v1h-1zM133 259h1v1h-1zM234 259h2v1h-2zM267 259h2v1h-2zM382 259h1v1h-1zM540 259h1v1h-1zM884 259h1v1h-1zM132 260h1v1h-1zM236 260h2v1h-2zM266 260h1v1h-1zM383 260h1v1h-1zM539 260h1v1h-1zM885 260h1v1h-1zM131 261h1v1h-1zM238 261h2v1h-2zM265 261h1v1h-1zM383 261h1v1h-1zM538 261h1v1h-1zM886 261h1v1h-1zM129 262h2v1h-2zM240 262h2v1h-2zM263 262h2v1h-2zM384 262h1v1h-1zM537 262h1v1h-1zM886 262h1v1h-1zM128 263h1v1h-1zM242 263h2v1h-2zM262 263h1v1h-1zM385 263h1v1h-1zM537 263h1v1h-1zM887 263h1v1h-1zM127 264h1v1h-1zM244 264h18v1h-18zM386 264h1v1h-1zM536 264h1v1h-1zM887 264h1v1h-1zM126 265h1v1h-1zM387 265h1v1h-1zM535 265h1v1h-1zM888 265h1v1h-1zM125 266h1v1h-1zM387 266h1v1h-1zM534 266h1v1h-1zM888 266h1v1h-1zM124 267h1v1h-1zM388 267h1v1h-1zM533 267h1v1h-1zM889 267h1v1h-1zM123 268h1v1h-1zM389 268h1v1h-1zM531 268h2v1h-2zM889 268h1v1h-1zM121 269h2v1h-2zM390 269h1v1h-1zM529 269h2v1h-2zM890 269h1v1h-1zM120 270h1v1h-1zM391 270h1v1h-1zM528 270h1v1h-1zM890 270h1v1h-1zM119 271h1v1h-1zM392 271h1v1h-1zM526 271h2v1h-2zM891 271h1v1h-1zM118 272h1v1h-1zM393 272h1v1h-1zM525 272h1v1h-1zM891 272h1v1h-1zM117 273h1v1h-1zM393 273h1v1h-1zM523 273h2v1h-2zM892 273h1v1h-1zM116 274h1v1h-1zM394 274h1v1h-1zM521 274h2v1h-2zM892 274h1v1h-1zM116 275h1v1h-1zM395 275h1v1h-1zM520 275h1v1h-1zM893 275h1v1h-1zM115 276h1v1h-1zM396 276h1v1h-1zM518 276h2v1h-2zM894 276h1v1h-1zM114 277h1v1h-1zM397 277h1v1h-1zM517 277h1v1h-1zM895 277h1v1h-1zM113 278h1v1h-1zM398 278h1v1h-1zM515 278h2v1h-2zM896 278h1v1h-1zM113 279h1v1h-1zM399 279h1v1h-1zM513 279h2v1h-2zM897 279h1v1h-1zM112 280h1v1h-1zM399 280h1v1h-1zM512 280h1v1h-1zM898 280h1v1h-1zM111 281h1v1h-1zM400 281h1v1h-1zM510 281h2v1h-2zM899 281h1v1h-1zM110 282h1v1h-1zM401 282h1v1h-1zM509 282h1v1h-1zM900 282h1v1h-1zM110 283h1v1h-1zM402 283h1v1h-1zM507 283h2v1h-2zM901 283h1v1h-1zM109 284h1v1h-1zM403 284h1v1h-1zM506 284h1v1h-1zM902 284h1v1h-1zM108 285h1v1h-1zM403 285h1v1h-1zM505 285h1v1h-1zM903 285h1v1h-1zM107 286h1v1h-1zM404 286h1v1h-1zM503 286h2v1h-2zM904 286h1v1h-1zM106 287h1v1h-1zM405 287h1v1h-1zM502 287h1v1h-1zM905 287h1v1h-1zM105 288h1v1h-1zM406 288h1v1h-1zM501 288h1v1h-1zM906 288h1v1h-1zM105 289h1v1h-1zM407 289h1v1h-1zM499 289h2v1h-2zM907 289h1v1h-1zM104 290h1v1h-1zM408 290h1v1h-1zM498 290h1v1h-1zM908 290h1v1h-1zM103 291h1v1h-1zM409 291h1v1h-1zM497 291h1v1h-1zM909 291h1v1h-1zM102 292h1v1h-1zM410 292h1v1h-1zM495 292h2v1h-2zM910 292h1v1h-1zM101 293h1v1h-1zM411 293h1v1h-1zM494 293h1v1h-1zM911 293h1v1h-1zM100 294h1v1h-1zM412 294h1v1h-1zM492 294h2v1h-2zM912 294h1v1h-1zM99 295h1v1h-1zM413 295h1v1h-1zM490 295h2v1h-2zM913 295h2v1h-2zM97 296h2v1h-2zM414 296h2v1h-2zM488 296h2v1h-2zM915 296h1v1h-1zM96 297h1v1h-1zM416 297h1v1h-1zM486 297h2v1h-2zM916 297h1v1h-1zM95 298h1v1h-1zM417 298h2v1h-2zM484 298h2v1h-2zM917 298h1v1h-1zM94 299h1v1h-1zM419 299h2v1h-2zM481 299h3v1h-3zM918 299h1v1h-1zM92 300h2v1h-2zM421 300h1v1h-1zM479 300h2v1h-2zM919 300h2v1h-2zM89 301h3v1h-3zM422 301h1v1h-1zM477 301h2v1h-2zM921 301h1v1h-1zM87 302h2v1h-2zM423 302h2v1h-2zM475 302h2v1h-2zM922 302h1v1h-1zM84 303h3v1h-3zM425 303h1v1h-1zM473 303h2v1h-2zM923 303h2v1h-2zM81 304h3v1h-3zM426 304h1v1h-1zM472 304h1v1h-1zM925 304h1v1h-1zM79 305h2v1h-2zM427 305h2v1h-2zM470 305h2v1h-2zM926 305h1v1h-1zM76 306h3v1h-3zM429 306h2v1h-2zM469 306h1v1h-1zM927 306h1v1h-1zM73 307h3v1h-3zM431 307h4v1h-4zM467 307h2v1h-2zM928 307h1v1h-1zM71 308h2v1h-2zM435 308h4v1h-4zM466 308h1v1h-1zM929 308h1v1h-1zM68 309h3v1h-3zM439 309h4v1h-4zM465 309h1v1h-1zM930 309h1v1h-1zM66 310h2v1h-2zM443 310h4v1h-4zM463 310h2v1h-2zM931 310h1v1h-1zM64 311h2v1h-2zM447 311h2v1h-2zM462 311h1v1h-1zM932 311h1v1h-1zM62 312h2v1h-2zM449 312h3v1h-3zM457 312h5v1h-5zM933 312h1v1h-1zM59 313h3v1h-3zM452 313h5v1h-5zM934 313h1v1h-1zM55 314h4v1h-4zM935 314h2v1h-2zM51 315h4v1h-4zM937 315h1v1h-1zM47 316h4v1h-4zM938 316h1v1h-1zM43 317h4v1h-4zM939 317h2v1h-2zM39 318h4v1h-4zM941 318h1v1h-1zM36 319h3v1h-3zM942 319h1v1h-1zM33 320h3v1h-3zM943 320h2v1h-2zM31 321h2v1h-2zM945 321h1v1h-1zM28 322h3v1h-3zM946 322h1v1h-1zM26 323h2v1h-2zM947 323h2v1h-2zM24 324h2v1h-2zM949 324h4v1h-4zM961 324h13v1h-13zM22 325h2v1h-2zM953 325h8v1h-8zM974 325h1v1h-1zM21 326h1v1h-1zM975 326h1v1h-1zM20 327h1v1h-1zM976 327h1v1h-1zM19 328h1v1h-1zM977 328h1v1h-1zM18 329h1v1h-1zM978 329h1v1h-1zM17 330h1v1h-1zM979 330h1v1h-1zM16 331h1v1h-1zM980 331h1v1h-1zM15 332h1v1h-1zM981 332h1v1h-1zM14 333h1v1h-1zM982 333h1v1h-1zM13 334h1v1h-1zM982 334h1v1h-1zM12 335h1v1h-1zM983 335h1v1h-1zM11 336h1v1h-1zM984 336h1v1h-1zM9 337h2v1h-2zM985 337h1v1h-1zM8 338h1v1h-1zM985 338h1v1h-1zM7 339h1v1h-1zM986 339h1v1h-1zM6 340h1v1h-1zM987 340h1v1h-1zM5 341h1v1h-1zM988 341h1v1h-1zM988 342h1v1h-1zM989 343h1v1h-1zM990 344h1v1h-1zM991 345h1v1h-1zM991 346h1v1h-1zM992 347h1v1h-1zM993 348h1v1h-1zM994 349h1v1h-1zM995 350h1v1h-1zM995 351h1v1h-1zM996 352h1v1h-1zM997 353h1v1h-1zM998 354h1v1h-1zM999 355h1v1h-1zM999 356h1v1h-1zM1000 357h1v1h-1zM1001 358h1v1h-1zM1002 359h1v1h-1zM1003 360h1v1h-1zM1003 361h1v1h-1zM1004 362h1v1h-1zM1005 363h1v1h-1zM1006 364h1v1h-1zM1007 365h1v1h-1zM1007 366h1v1h-1zM1008 367h1v1h-1zM1009 368h1v1h-1zM1010 369h1v1h-1zM1011 370h1v1h-1zM1011 371h1v1h-1zM1012 372h1v1h-1zM1013 373h1v1h-1zM1014 374h1v1h-1zM1015 375h1v1h-1zM1016 376h1v1h-1zM1017 377h2v1h-2zM1019 378h1v1h-1zM1020 379h1v1h-1zM1021 380h1v1h-1zM1022 381h1v1h-1zM1022 382h1v1h-1zM1023 383h1v1h-1zM1024 384h1v1h-1zM1025 385h1v1h-1zM1025 386h1v1h-1zM1026 387h1v1h-1zM1027 388h1v1h-1zM1028 389h1v1h-1zM1028 390h1v1h-1zM1029 391h1v1h-1zM1030 392h1v1h-1zM1030 393h1v1h-1zM1031 394h1v1h-1zM1031 395h1v1h-1zM1032 396h1v1h-1zM1033 397h1v1h-1zM1033 398h1v1h-1zM1034 399h1v1h-1zM1035 400h1v1h-1zM1035 401h1v1h-1zM1036 402h1v1h-1zM1036 403h1v1h-1zM1037 404h1v1h-1zM1038 405h1v1h-1zM1039 406h1v1h-1zM1117 406h1v1h-1zM1040 407h1v1h-1zM1116 407h1v1h-1zM1041 408h1v1h-1zM1116 408h1v1h-1zM1041 409h1v1h-1zM1115 409h1v1h-1zM1042 410h1v1h-1zM1115 410h1v1h-1zM1043 411h1v1h-1zM1114 411h1v1h-1zM1044 412h1v1h-1zM1113 412h1v1h-1zM1045 413h1v1h-1zM1113 413h1v1h-1zM1046 414h1v1h-1zM1112 414h1v1h-1zM1047 415h1v1h-1zM1111 415h1v1h-1zM1048 416h1v1h-1zM1111 416h1v1h-1zM1049 417h1v1h-1zM1110 417h1v1h-1zM1050 418h1v1h-1zM1110 418h1v1h-1zM1051 419h1v1h-1zM1109 419h1v1h-1zM1052 420h1v1h-1zM1108 420h1v1h-1zM1053 421h1v1h-1zM1108 421h1v1h-1zM1054 422h1v1h-1zM1107 422h1v1h-1zM1055 423h1v1h-1zM1106 423h1v1h-1zM1056 424h1v1h-1zM1106 424h1v1h-1zM1057 425h1v1h-1zM1105 425h1v1h-1zM1057 426h1v1h-1zM1104 426h1v1h-1zM1058 427h1v1h-1zM1104 427h1v1h-1zM1059 428h1v1h-1zM1103 428h1v1h-1zM1060 429h1v1h-1zM1102 429h1v1h-1zM1061 430h1v1h-1zM1102 430h1v1h-1zM1062 431h1v1h-1zM1101 431h1v1h-1zM1063 432h1v1h-1zM1100 432h1v1h-1zM1064 433h1v1h-1zM1100 433h1v1h-1zM1065 434h1v1h-1zM1099 434h1v1h-1zM1066 435h1v1h-1zM1098 435h1v1h-1zM1067 436h1v1h-1zM1097 436h1v1h-1zM1068 437h1v1h-1zM1097 437h1v1h-1zM1069 438h1v1h-1zM1096 438h1v1h-1zM1070 439h1v1h-1zM1095 439h1v1h-1zM1070 440h1v1h-1zM1094 440h1v1h-1zM1071 441h1v1h-1zM1094 441h1v1h-1zM1072 442h1v1h-1zM1093 442h1v1h-1zM1073 443h1v1h-1zM1092 443h1v1h-1zM1073 444h1v1h-1zM1091 444h1v1h-1zM1074 445h1v1h-1zM1089 445h2v1h-2zM1075 446h1v1h-1zM1088 446h1v1h-1zM1076 447h1v1h-1zM1087 447h1v1h-1zM1076 448h1v1h-1zM1086 448h1v1h-1zM1077 449h9v1h-9z" fill="#ff0000"/>
<path d="M629 88h2v1h-2zM627 89h2v1h-2zM631 89h2v1h-2zM625 90h2v1h-2zM633 90h3v1h-3zM624 91h1v1h-1zM636 91h3v1h-3zM622 92h2v1h-2zM639 92h4v1h-4zM621 93h1v1h-1zM643 93h4v1h-4zM619 94h2v1h-2zM647 94h2v1h-2zM618 95h1v1h-1zM649 95h3v1h-3zM617 96h1v1h-1zM652 96h2v1h-2zM615 97h2v1h-2zM654 97h2v1h-2zM614 98h1v1h-1zM656 98h2v1h-2zM613 99h1v1h-1zM658 99h2v1h-2zM611 100h2v1h-2zM660 100h3v1h-3zM610 101h1v1h-1zM663 101h4v1h-4zM681 101h6v1h-6zM609 102h1v1h-1zM667 102h14v1h-14zM687 102h4v1h-4zM607 103h2v1h-2zM691 103h3v1h-3zM606 104h1v1h-1zM694 104h1v1h-1zM605 105h1v1h-1zM695 105h1v1h-1zM604 106h1v1h-1zM696 106h1v1h-1zM604 107h1v1h-1zM697 107h1v1h-1zM603 108h1v1h-1zM697 108h1v1h-1zM602 109h1v1h-1zM698 109h1v1h-1zM601 110h1v1h-1zM699 110h1v1h-1zM601 111h1v1h-1zM700 111h1v1h-1zM600 112h1v1h-1zM701 112h1v1h-1zM599 113h1v1h-1zM702 113h1v1h-1zM598 114h1v1h-1zM703 114h1v1h-1zM598 115h1v1h-1zM704 115h1v1h-1zM597 116h1v1h-1zM705 116h1v1h-1zM597 117h1v1h-1zM705 117h1v1h-1zM596 118h1v1h-1zM706 118h1v1h-1zM596 119h1v1h-1zM707 119h1v1h-1zM595 120h1v1h-1zM708 120h1v1h-1zM595 121h1v1h-1zM709 121h1v1h-1zM594 122h1v1h-1zM710 122h1v1h-1zM594 123h1v1h-1zM710 123h1v1h-1zM593 124h1v1h-1zM711 124h1v1h-1zM593 125h1v1h-1zM711 125h1v1h-1zM592 126h1v1h-1zM712 126h1v1h-1zM592 127h1v1h-1zM712 127h1v1h-1zM591 128h1v1h-1zM713 128h1v1h-1zM591 129h1v1h-1zM713 129h1v1h-1zM590 130h1v1h-1zM714 130h1v1h-1zM590 131h1v1h-1zM714 131h1v1h-1zM589 132h1v1h-1zM715 132h1v1h-1zM589 133h1v1h-1zM715 133h1v1h-1zM588 134h1v1h-1zM716 134h1v1h-1zM588 135h1v1h-1zM716 135h1v1h-1zM588 136h1v1h-1zM717 136h1v1h-1zM587 137h1v1h-1zM718 137h1v1h-1zM587 138h1v1h-1zM718 138h1v1h-1zM586 139h1v1h-1zM719 139h1v1h-1zM586 140h1v1h-1zM720 140h1v1h-1zM586 141h1v1h-1zM721 141h1v1h-1zM585 142h1v1h-1zM721 142h1v1h-1zM585 143h1v1h-1zM722 143h1v1h-1zM585 144h1v1h-1zM723 144h1v1h-1zM584 145h1v1h-1zM724 145h1v1h-1zM584 146h1v1h-1zM724 146h1v1h-1zM584 147h1v1h-1zM725 147h1v1h-1zM583 148h1v1h-1zM726 148h1v1h-1zM583 149h1v1h-1zM726 149h1v1h-1zM582 150h1v1h-1zM727 150h1v1h-1zM582 151h1v1h-1zM727 151h1v1h-1zM582 152h1v1h-1zM728 152h1v1h-1zM581 153h1v1h-1zM728 153h1v1h-1zM581 154h1v1h-1zM729 154h1v1h-1zM581 155h1v1h-1zM729 155h1v1h-1zM580 156h1v1h-1zM730 156h1v1h-1zM580 157h1v1h-1zM730 157h1v1h-1zM580 158h1v1h-1zM731 158h1v1h-1zM579 159h1v1h-1zM731 159h1v1h-1zM579 160h1v1h-1zM732 160h1v1h-1zM579 161h1v1h-1zM732 161h1v1h-1zM578 162h1v1h-1zM733 162h1v1h-1zM578 163h1v1h-1zM734 163h1v1h-1zM578 164h1v1h-1zM734 164h1v1h-1zM577 165h1v1h-1zM735 165h1v1h-1zM577 166h1v1h-1zM735 166h1v1h-1zM576 167h1v1h-1zM736 167h1v1h-1zM576 168h1v1h-1zM736 168h1v1h-1zM576 169h1v1h-1zM737 169h1v1h-1zM575 170h1v1h-1zM738 170h1v1h-1zM575 171h1v1h-1zM738 171h1v1h-1zM575 172h1v1h-1zM739 172h1v1h-1zM574 173h1v1h-1zM739 173h1v1h-1zM574 174h1v1h-1zM740 174h1v1h-1zM574 175h1v1h-1zM740 175h1v1h-1zM573 176h1v1h-1zM741 176h1v1h-1zM573 177h1v1h-1zM742 177h1v1h-1zM573 178h1v1h-1zM743 178h2v1h-2zM777 178h5v1h-5zM572 179h1v1h-1zM745 179h1v1h-1zM773 179h4v1h-4zM782 179h1v1h-1zM572 180h1v1h-1zM746 180h1v1h-1zM772 180h1v1h-1zM783 180h1v1h-1zM571 181h1v1h-1zM747 181h2v1h-2zM771 181h1v1h-1zM784 181h1v1h-1zM571 182h1v1h-1zM749 182h2v1h-2zM770 182h1v1h-1zM785 182h2v1h-2zM570 183h1v1h-1zM751 183h4v1h-4zM769 183h1v1h-1zM787 183h1v1h-1zM570 184h1v1h-1zM755 184h4v1h-4zM768 184h1v1h-1zM788 184h1v1h-1zM569 185h1v1h-1zM759 185h2v1h-2zM767 185h1v1h-1zM789 185h1v1h-1zM569 186h1v1h-1zM761 186h3v1h-3zM766 186h1v1h-1zM790 186h1v1h-1zM568 187h1v1h-1zM764 187h2v1h-2zM790 187h1v1h-1zM568 188h1v1h-1zM791 188h1v1h-1zM567 189h1v1h-1zM792 189h1v1h-1zM567 190h1v1h-1zM793 190h1v1h-1zM566 191h1v1h-1zM793 191h1v1h-1zM566 192h1v1h-1zM794 192h1v1h-1zM565 193h1v1h-1zM795 193h1v1h-1zM565 194h1v1h-1zM796 194h1v1h-1zM564 195h1v1h-1zM796 195h1v1h-1zM564 196h1v1h-1zM797 196h1v1h-1zM563 197h1v1h-1zM798 197h1v1h-1zM563 198h1v1h-1zM798 198h1v1h-1zM301 199h4v1h-4zM562 199h1v1h-1zM799 199h1v1h-1zM300 200h1v1h-1zM305 200h8v1h-8zM562 200h1v1h-1zM800 200h1v1h-1zM300 201h1v1h-1zM313 201h5v1h-5zM561 201h1v1h-1zM800 201h1v1h-1zM299 202h1v1h-1zM318 202h1v1h-1zM561 202h1v1h-1zM801 202h1v1h-1zM298 203h1v1h-1zM318 203h1v1h-1zM560 203h1v1h-1zM802 203h1v1h-1zM297 204h1v1h-1zM319 204h1v1h-1zM560 204h1v1h-1zM802 204h1v1h-1zM297 205h1v1h-1zM320 205h1v1h-1zM559 205h1v1h-1zM803 205h1v1h-1zM296 206h1v1h-1zM320 206h1v1h-1zM559 206h1v1h-1zM804 206h1v1h-1zM295 207h1v1h-1zM321 207h1v1h-1zM558 207h1v1h-1zM804 207h1v1h-1zM294 208h1v1h-1zM322 208h1v1h-1zM558 208h1v1h-1zM805 208h1v1h-1zM294 209h1v1h-1zM322 209h1v1h-1zM557 209h1v1h-1zM806 209h1v1h-1zM293 210h1v1h-1zM323 210h1v1h-1zM557 210h1v1h-1zM807 210h1v1h-1zM292 211h1v1h-1zM324 211h1v1h-1zM556 211h1v1h-1zM808 211h1v1h-1zM292 212h1v1h-1zM324 212h1v1h-1zM556 212h1v1h-1zM809 212h1v1h-1zM291 213h1v1h-1zM325 213h1v1h-1zM555 213h1v1h-1zM809 213h1v1h-1zM291 214h1v1h-1zM326 214h1v1h-1zM555 214h1v1h-1zM810 214h1v1h-1zM290 215h1v1h-1zM327 215h2v1h-2zM554 215h1v1h-1zM811 215h1v1h-1zM290 216h1v1h-1zM329 216h1v1h-1zM554 216h1v1h-1zM812 216h1v1h-1zM289 217h1v1h-1zM330 217h1v1h-1zM553 217h1v1h-1zM813 217h2v1h-2zM289 218h1v1h-1zM331 218h2v1h-2zM553 218h1v1h-1zM815 218h4v1h-4zM149 219h2v1h-2zM288 219h1v1h-1zM333 219h1v1h-1zM552 219h1v1h-1zM819 219h4v1h-4zM148 220h1v1h-1zM151 220h2v1h-2zM288 220h1v1h-1zM334 220h1v1h-1zM552 220h1v1h-1zM823 220h2v1h-2zM147 221h1v1h-1zM153 221h3v1h-3zM287 221h1v1h-1zM335 221h1v1h-1zM551 221h1v1h-1zM825 221h3v1h-3zM145 222h2v1h-2zM156 222h2v1h-2zM287 222h1v1h-1zM336 222h1v1h-1zM551 222h1v1h-1zM828 222h3v1h-3zM144 223h1v1h-1zM158 223h1v1h-1zM286 223h1v1h-1zM337 223h1v1h-1zM550 223h1v1h-1zM831 223h2v1h-2zM143 224h1v1h-1zM159 224h1v1h-1zM286 224h1v1h-1zM337 224h1v1h-1zM550 224h1v1h-1zM833 224h3v1h-3zM142 225h1v1h-1zM160 225h1v1h-1zM285 225h1v1h-1zM338 225h1v1h-1zM549 225h1v1h-1zM836 225h3v1h-3zM141 226h1v1h-1zM161 226h1v1h-1zM284 226h1v1h-1zM339 226h1v1h-1zM549 226h1v1h-1zM839 226h2v1h-2zM139 227h2v1h-2zM162 227h1v1h-1zM284 227h1v1h-1zM340 227h1v1h-1zM548 227h1v1h-1zM841 227h3v1h-3zM138 228h1v1h-1zM163 228h1v1h-1zM283 228h1v1h-1zM341 228h1v1h-1zM548 228h1v1h-1zM844 228h3v1h-3zM137 229h1v1h-1zM164 229h1v1h-1zM282 229h1v1h-1zM342 229h1v1h-1zM547 229h1v1h-1zM847 229h2v1h-2zM135 230h2v1h-2zM165 230h1v1h-1zM282 230h1v1h-1zM342 230h1v1h-1zM547 230h1v1h-1zM849 230h3v1h-3zM134 231h1v1h-1zM166 231h1v1h-1zM281 231h1v1h-1zM343 231h1v1h-1zM546 231h1v1h-1zM852 231h2v1h-2zM132 232h2v1h-2zM167 232h1v1h-1zM280 232h1v1h-1zM343 232h1v1h-1zM546 232h1v1h-1zM854 232h1v1h-1zM129 233h3v1h-3zM167 233h1v1h-1zM280 233h1v1h-1zM344 233h1v1h-1zM545 233h1v1h-1zM854 233h1v1h-1zM127 234h2v1h-2zM168 234h1v1h-1zM279 234h1v1h-1zM344 234h1v1h-1zM545 234h1v1h-1zM855 234h1v1h-1zM124 235h3v1h-3zM169 235h1v1h-1zM278 235h1v1h-1zM345 235h1v1h-1zM544 235h1v1h-1zM856 235h1v1h-1zM121 236h3v1h-3zM170 236h1v1h-1zM278 236h1v1h-1zM345 236h1v1h-1zM544 236h1v1h-1zM856 236h1v1h-1zM119 237h2v1h-2zM171 237h1v1h-1zM277 237h1v1h-1zM346 237h1v1h-1zM543 237h1v1h-1zM857 237h1v1h-1zM117 238h2v1h-2zM171 238h1v1h-1zM276 238h1v1h-1zM346 238h1v1h-1zM543 238h1v1h-1zM858 238h1v1h-1zM116 239h1v1h-1zM172 239h1v1h-1zM276 239h1v1h-1zM347 239h1v1h-1zM542 239h1v1h-1zM858 239h1v1h-1zM116 240h1v1h-1zM173 240h1v1h-1zM275 240h1v1h-1zM347 240h1v1h-1zM542 240h1v1h-1zM859 240h1v1h-1zM115 241h1v1h-1zM174 241h1v1h-1zM275 241h1v1h-1zM348 241h1v1h-1zM541 241h1v1h-1zM860 241h1v1h-1zM114 242h1v1h-1zM175 242h1v1h-1zM274 242h1v1h-1zM348 242h1v1h-1zM540 242h1v1h-1zM860 242h1v1h-1zM114 243h1v1h-1zM176 243h1v1h-1zM273 243h1v1h-1zM349 243h1v1h-1zM540 243h1v1h-1zM861 243h1v1h-1zM113 244h1v1h-1zM177 244h2v1h-2zM273 244h1v1h-1zM349 244h1v1h-1zM539 244h1v1h-1zM862 244h1v1h-1zM112 245h1v1h-1zM179 245h1v1h-1zM272 245h1v1h-1zM350 245h1v1h-1zM538 245h1v1h-1zM862 245h1v1h-1zM112 246h1v1h-1zM180 246h1v1h-1zM271 246h1v1h-1zM350 246h1v1h-1zM537 246h1v1h-1zM863 246h1v1h-1zM111 247h1v1h-1zM181 247h1v1h-1zM271 247h1v1h-1zM350 247h1v1h-1zM537 247h1v1h-1zM863 247h1v1h-1zM110 248h1v1h-1zM182 248h1v1h-1zM270 248h1v1h-1zM351 248h1v1h-1zM536 248h1v1h-1zM864 248h1v1h-1zM110 249h1v1h-1zM183 249h2v1h-2zM270 249h1v1h-1zM351 249h1v1h-1zM535 249h1v1h-1zM864 249h1v1h-1zM109 250h1v1h-1zM185 250h1v1h-1zM269 250h1v1h-1zM352 250h1v1h-1zM534 250h1v1h-1zM865 250h1v1h-1zM108 251h1v1h-1zM186 251h1v1h-1zM268 251h1v1h-1zM352 251h1v1h-1zM534 251h1v1h-1zM865 251h1v1h-1zM108 252h1v1h-1zM187 252h2v1h-2zM268 252h1v1h-1zM352 252h1v1h-1zM532 252h2v1h-2zM866 252h1v1h-1zM107 253h1v1h-1zM189 253h1v1h-1zM267 253h1v1h-1zM353 253h1v1h-1zM530 253h2v1h-2zM866 253h1v1h-1zM106 254h1v1h-1zM190 254h1v1h-1zM267 254h1v1h-1zM353 254h1v1h-1zM528 254h2v1h-2zM867 254h1v1h-1zM105 255h1v1h-1zM191 255h2v1h-2zM266 255h1v1h-1zM353 255h1v1h-1zM526 255h2v1h-2zM867 255h1v1h-1zM105 256h1v1h-1zM193 256h1v1h-1zM266 256h1v1h-1zM354 256h1v1h-1zM524 256h2v1h-2zM868 256h1v1h-1zM104 257h1v1h-1zM194 257h1v1h-1zM265 257h1v1h-1zM354 257h1v1h-1zM522 257h2v1h-2zM868 257h1v1h-1zM103 258h1v1h-1zM195 258h2v1h-2zM264 258h1v1h-1zM354 258h1v1h-1zM520 258h2v1h-2zM869 258h1v1h-1zM102 259h1v1h-1zM197 259h1v1h-1zM264 259h1v1h-1zM355 259h1v1h-1zM518 259h2v1h-2zM869 259h1v1h-1zM102 260h1v1h-1zM198 260h1v1h-1zM263 260h1v1h-1zM355 260h1v1h-1zM516 260h2v1h-2zM870 260h1v1h-1zM101 261h1v1h-1zM199 261h2v1h-2zM263 261h1v1h-1zM356 261h1v1h-1zM513 261h3v1h-3zM870 261h1v1h-1zM100 262h1v1h-1zM201 262h1v1h-1zM262 262h1v1h-1zM356 262h1v1h-1zM511 262h2v1h-2zM871 262h1v1h-1zM100 263h1v1h-1zM202 263h1v1h-1zM262 263h1v1h-1zM356 263h1v1h-1zM509 263h2v1h-2zM871 263h1v1h-1zM99 264h1v1h-1zM203 264h2v1h-2zM261 264h1v1h-1zM357 264h1v1h-1zM508 264h1v1h-1zM872 264h1v1h-1zM98 265h1v1h-1zM205 265h4v1h-4zM259 265h2v1h-2zM357 265h1v1h-1zM507 265h1v1h-1zM872 265h1v1h-1zM97 266h1v1h-1zM209 266h5v1h-5zM258 266h1v1h-1zM358 266h1v1h-1zM505 266h2v1h-2zM873 266h1v1h-1zM97 267h1v1h-1zM214 267h2v1h-2zM257 267h1v1h-1zM358 267h1v1h-1zM504 267h1v1h-1zM873 267h1v1h-1zM96 268h1v1h-1zM216 268h2v1h-2zM255 268h2v1h-2zM359 268h1v1h-1zM503 268h1v1h-1zM874 268h1v1h-1zM95 269h1v1h-1zM218 269h2v1h-2zM254 269h1v1h-1zM359 269h1v1h-1zM502 269h1v1h-1zM874 269h1v1h-1zM94 270h1v1h-1zM220 270h3v1h-3zM253 270h1v1h-1zM360 270h1v1h-1zM501 270h1v1h-1zM875 270h1v1h-1zM94 271h1v1h-1zM223 271h4v1h-4zM251 271h2v1h-2zM360 271h1v1h-1zM499 271h2v1h-2zM875 271h1v1h-1zM93 272h1v1h-1zM227 272h4v1h-4zM249 272h2v1h-2zM361 272h1v1h-1zM498 272h1v1h-1zM876 272h1v1h-1zM91 273h2v1h-2zM231 273h4v1h-4zM248 273h1v1h-1zM361 273h1v1h-1zM497 273h1v1h-1zM876 273h1v1h-1zM90 274h1v1h-1zM235 274h6v1h-6zM246 274h2v1h-2zM362 274h1v1h-1zM495 274h2v1h-2zM877 274h1v1h-1zM89 275h1v1h-1zM241 275h5v1h-5zM362 275h1v1h-1zM494 275h1v1h-1zM877 275h1v1h-1zM87 276h2v1h-2zM363 276h1v1h-1zM485 276h9v1h-9zM877 276h1v1h-1zM86 277h1v1h-1zM363 277h1v1h-1zM483 277h2v1h-2zM878 277h1v1h-1zM85 278h1v1h-1zM364 278h1v1h-1zM482 278h1v1h-1zM878 278h1v1h-1zM84 279h1v1h-1zM364 279h1v1h-1zM481 279h1v1h-1zM878 279h1v1h-1zM83 280h1v1h-1zM365 280h1v1h-1zM479 280h2v1h-2zM879 280h1v1h-1zM82 281h1v1h-1zM366 281h1v1h-1zM478 281h1v1h-1zM879 281h1v1h-1zM81 282h1v1h-1zM366 282h1v1h-1zM477 282h1v1h-1zM879 282h1v1h-1zM80 283h1v1h-1zM367 283h1v1h-1zM475 283h2v1h-2zM880 283h1v1h-1zM79 284h1v1h-1zM368 284h1v1h-1zM473 284h2v1h-2zM880 284h1v1h-1zM78 285h1v1h-1zM368 285h1v1h-1zM472 285h1v1h-1zM880 285h1v1h-1zM77 286h1v1h-1zM369 286h1v1h-1zM470 286h2v1h-2zM881 286h1v1h-1zM76 287h1v1h-1zM370 287h1v1h-1zM469 287h1v1h-1zM881 287h1v1h-1zM76 288h1v1h-1zM370 288h1v1h-1zM468 288h1v1h-1zM882 288h1v1h-1zM75 289h1v1h-1zM371 289h1v1h-1zM467 289h1v1h-1zM882 289h1v1h-1zM74 290h1v1h-1zM372 290h1v1h-1zM465 290h2v1h-2zM882 290h1v1h-1zM73 291h1v1h-1zM372 291h1v1h-1zM464 291h1v1h-1zM883 291h1v1h-1zM73 292h1v1h-1zM373 292h1v1h-1zM463 292h1v1h-1zM883 292h1v1h-1zM72 293h1v1h-1zM374 293h1v1h-1zM462 293h1v1h-1zM883 293h1v1h-1zM71 294h1v1h-1zM374 294h1v1h-1zM461 294h1v1h-1zM884 294h1v1h-1zM70 295h1v1h-1zM375 295h1v1h-1zM459 295h2v1h-2zM884 295h1v1h-1zM70 296h1v1h-1zM376 296h1v1h-1zM458 296h1v1h-1zM884 296h1v1h-1zM969 296h5v1h-5zM69 297h1v1h-1zM377 297h1v1h-1zM457 297h1v1h-1zM885 297h1v1h-1zM965 297h4v1h-4zM973 297h1v1h-1zM68 298h1v1h-1zM377 298h1v1h-1zM455 298h2v1h-2zM885 298h1v1h-1zM964 298h1v1h-1zM974 298h1v1h-1zM67 299h1v1h-1zM378 299h1v1h-1zM454 299h1v1h-1zM885 299h1v1h-1zM964 299h1v1h-1zM974 299h1v1h-1zM67 300h1v1h-1zM379 300h1v1h-1zM453 300h1v1h-1zM886 300h1v1h-1zM963 300h1v1h-1zM975 300h1v1h-1zM66 301h1v1h-1zM380 301h1v1h-1zM451 301h2v1h-2zM886 301h1v1h-1zM963 301h1v1h-1zM975 301h1v1h-1zM65 302h1v1h-1zM380 302h1v1h-1zM449 302h2v1h-2zM886 302h1v1h-1zM962 302h1v1h-1zM976 302h1v1h-1zM64 303h1v1h-1zM381 303h1v1h-1zM448 303h1v1h-1zM887 303h1v1h-1zM962 303h1v1h-1zM976 303h1v1h-1zM63 304h1v1h-1zM382 304h1v1h-1zM446 304h2v1h-2zM887 304h1v1h-1zM961 304h1v1h-1zM976 304h1v1h-1zM63 305h1v1h-1zM382 305h1v1h-1zM445 305h1v1h-1zM887 305h1v1h-1zM961 305h1v1h-1zM977 305h1v1h-1zM62 306h1v1h-1zM383 306h1v1h-1zM444 306h1v1h-1zM887 306h1v1h-1zM960 306h1v1h-1zM977 306h1v1h-1zM61 307h1v1h-1zM383 307h1v1h-1zM443 307h1v1h-1zM888 307h1v1h-1zM960 307h1v1h-1zM978 307h1v1h-1zM60 308h1v1h-1zM384 308h1v1h-1zM442 308h1v1h-1zM888 308h1v1h-1zM959 308h1v1h-1zM978 308h1v1h-1zM59 309h1v1h-1zM385 309h1v1h-1zM441 309h1v1h-1zM888 309h1v1h-1zM959 309h1v1h-1zM978 309h1v1h-1zM59 310h1v1h-1zM385 310h1v1h-1zM440 310h1v1h-1zM889 310h1v1h-1zM958 310h1v1h-1zM979 310h1v1h-1zM58 311h1v1h-1zM386 311h1v1h-1zM439 311h1v1h-1zM889 311h1v1h-1zM958 311h1v1h-1zM979 311h1v1h-1zM57 312h1v1h-1zM387 312h1v1h-1zM438 312h1v1h-1zM889 312h1v1h-1zM957 312h1v1h-1zM980 312h1v1h-1zM56 313h1v1h-1zM387 313h1v1h-1zM437 313h1v1h-1zM890 313h1v1h-1zM956 313h1v1h-1zM980 313h1v1h-1zM55 314h1v1h-1zM388 314h1v1h-1zM435 314h2v1h-2zM890 314h1v1h-1zM956 314h1v1h-1zM981 314h1v1h-1zM55 315h1v1h-1zM388 315h1v1h-1zM434 315h1v1h-1zM890 315h1v1h-1zM955 315h1v1h-1zM981 315h1v1h-1zM54 316h1v1h-1zM389 316h1v1h-1zM433 316h1v1h-1zM891 316h1v1h-1zM954 316h1v1h-1zM981 316h1v1h-1zM53 317h1v1h-1zM390 317h1v1h-1zM431 317h2v1h-2zM891 317h1v1h-1zM953 317h1v1h-1zM982 317h1v1h-1zM5 318h2v1h-2zM52 318h1v1h-1zM391 318h1v1h-1zM430 318h1v1h-1zM891 318h1v1h-1zM953 318h1v1h-1zM982 318h1v1h-1zM7 319h2v1h-2zM51 319h1v1h-1zM391 319h1v1h-1zM427 319h3v1h-3zM891 319h1v1h-1zM952 319h1v1h-1zM983 319h1v1h-1zM9 320h3v1h-3zM49 320h2v1h-2zM392 320h1v1h-1zM423 320h4v1h-4zM892 320h1v1h-1zM951 320h1v1h-1zM983 320h1v1h-1zM12 321h2v1h-2zM48 321h1v1h-1zM393 321h1v1h-1zM421 321h2v1h-2zM892 321h1v1h-1zM950 321h1v1h-1zM983 321h1v1h-1zM14 322h2v1h-2zM47 322h1v1h-1zM394 322h1v1h-1zM419 322h2v1h-2zM892 322h1v1h-1zM950 322h1v1h-1zM984 322h1v1h-1zM16 323h1v1h-1zM46 323h1v1h-1zM395 323h1v1h-1zM417 323h2v1h-2zM893 323h1v1h-1zM949 323h1v1h-1zM984 323h1v1h-1zM17 324h2v1h-2zM45 324h1v1h-1zM395 324h1v1h-1zM416 324h1v1h-1zM893 324h1v1h-1zM949 324h1v1h-1zM984 324h1v1h-1zM19 325h2v1h-2zM43 325h2v1h-2zM396 325h1v1h-1zM414 325h2v1h-2zM894 325h1v1h-1zM948 325h1v1h-1zM985 325h1v1h-1zM21 326h4v1h-4zM41 326h2v1h-2zM397 326h1v1h-1zM413 326h1v1h-1zM894 326h1v1h-1zM948 326h1v1h-1zM985 326h1v1h-1zM25 327h6v1h-6zM40 327h1v1h-1zM398 327h2v1h-2zM411 327h2v1h-2zM895 327h1v1h-1zM947 327h1v1h-1zM986 327h1v1h-1zM31 328h4v1h-4zM38 328h2v1h-2zM400 328h1v1h-1zM409 328h2v1h-2zM895 328h1v1h-1zM947 328h1v1h-1zM986 328h1v1h-1zM35 329h3v1h-3zM401 329h2v1h-2zM408 329h1v1h-1zM896 329h1v1h-1zM946 329h1v1h-1zM986 329h1v1h-1zM403 330h2v1h-2zM406 330h2v1h-2zM896 330h1v1h-1zM946 330h1v1h-1zM987 330h1v1h-1zM405 331h1v1h-1zM897 331h1v1h-1zM945 331h1v1h-1zM987 331h1v1h-1zM898 332h1v1h-1zM945 332h1v1h-1zM987 332h1v1h-1zM898 333h1v1h-1zM944 333h1v1h-1zM988 333h1v1h-1zM899 334h1v1h-1zM944 334h1v1h-1zM988 334h1v1h-1zM899 335h1v1h-1zM943 335h1v1h-1zM989 335h1v1h-1zM900 336h1v1h-1zM943 336h1v1h-1zM989 336h1v1h-1zM900 337h1v1h-1zM942 337h1v1h-1zM989 337h1v1h-1zM901 338h1v1h-1zM942 338h1v1h-1zM990 338h1v1h-1zM902 339h1v1h-1zM941 339h1v1h-1zM990 339h1v1h-1zM902 340h1v1h-1zM940 340h1v1h-1zM990 340h1v1h-1zM903 341h1v1h-1zM939 341h1v1h-1zM990 341h1v1h-1zM903 342h1v1h-1zM939 342h1v1h-1zM991 342h1v1h-1zM904 343h1v1h-1zM938 343h1v1h-1zM991 343h1v1h-1zM904 344h1v1h-1zM937 344h1v1h-1zM991 344h1v1h-1zM905 345h1v1h-1zM936 345h1v1h-1zM991 345h1v1h-1zM906 346h1v1h-1zM935 346h1v1h-1zM992 346h1v1h-1zM906 347h1v1h-1zM935 347h1v1h-1zM992 347h1v1h-1zM907 348h1v1h-1zM934 348h1v1h-1zM992 348h1v1h-1zM907 349h1v1h-1zM924 349h10v1h-10zM992 349h1v1h-1zM908 350h1v1h-1zM921 350h3v1h-3zM993 350h1v1h-1zM908 351h1v1h-1zM919 351h2v1h-2zM993 351h1v1h-1zM909 352h10v1h-10zM993 352h1v1h-1zM993 353h1v1h-1zM994 354h1v1h-1zM1117 354h1v1h-1zM994 355h1v1h-1zM1116 355h1v1h-1zM994 356h1v1h-1zM1115 356h1v1h-1zM994 357h1v1h-1zM1115 357h1v1h-1zM995 358h1v1h-1zM1114 358h1v1h-1zM995 359h1v1h-1zM1113 359h1v1h-1zM995 360h1v1h-1zM1112 360h1v1h-1zM995 361h1v1h-1zM1111 361h1v1h-1zM996 362h1v1h-1zM1111 362h1v1h-1zM996 363h1v1h-1zM1110 363h1v1h-1zM996 364h1v1h-1zM1109 364h1v1h-1zM996 365h1v1h-1zM1108 365h1v1h-1zM997 366h1v1h-1zM1107 366h1v1h-1zM997 367h1v1h-1zM1106 367h1v1h-1zM997 368h1v1h-1zM1105 368h1v1h-1zM997 369h1v1h-1zM1105 369h1v1h-1zM998 370h1v1h-1zM1104 370h1v1h-1zM998 371h1v1h-1zM1103 371h1v1h-1zM998 372h1v1h-1zM1102 372h1v1h-1zM998 373h1v1h-1zM1101 373h1v1h-1zM999 374h1v1h-1zM1101 374h1v1h-1zM999 375h1v1h-1zM1100 375h1v1h-1zM999 376h1v1h-1zM1100 376h1v1h-1zM999 377h1v1h-1zM1099 377h1v1h-1zM1000 378h1v1h-1zM1099 378h1v1h-1zM1000 379h1v1h-1zM1098 379h1v1h-1zM1000 380h1v1h-1zM1098 380h1v1h-1zM1000 381h1v1h-1zM1098 381h1v1h-1zM1000 382h1v1h-1zM1097 382h1v1h-1zM1001 383h1v1h-1zM1097 383h1v1h-1zM1001 384h1v1h-1zM1096 384h1v1h-1zM1001 385h1v1h-1zM1096 385h1v1h-1zM1001 386h1v1h-1zM1096 386h1v1h-1zM1002 387h1v1h-1zM1095 387h1v1h-1zM1002 388h1v1h-1zM1095 388h1v1h-1zM1002 389h1v1h-1zM1094 389h1v1h-1zM1002 390h1v1h-1zM1094 390h1v1h-1zM1002 391h1v1h-1zM1093 391h1v1h-1zM1003 392h1v1h-1zM1093 392h1v1h-1zM1003 393h1v1h-1zM1093 393h1v1h-1zM1003 394h1v1h-1zM1092 394h1v1h-1zM1003 395h1v1h-1zM1092 395h1v1h-1zM1004 396h1v1h-1zM1091 396h1v1h-1zM1004 397h1v1h-1zM1091 397h1v1h-1zM1004 398h1v1h-1zM1091 398h1v1h-1zM1004 399h1v1h-1zM1090 399h1v1h-1zM1005 400h1v1h-1zM1090 400h1v1h-1zM1005 401h1v1h-1zM1090 401h1v1h-1zM1005 402h1v1h-1zM1089 402h1v1h-1zM1005 403h1v1h-1zM1089 403h1v1h-1zM1006 404h1v1h-1zM1088 404h1v1h-1zM1006 405h1v1h-1zM1088 405h1v1h-1zM1006 406h1v1h-1zM1088 406h1v1h-1zM1006 407h1v1h-1zM1087 407h1v1h-1zM1007 408h1v1h-1zM1087 408h1v1h-1zM1007 409h1v1h-1zM1087 409h1v1h-1zM1007 410h1v1h-1zM1086 410h1v1h-1zM1007 411h1v1h-1zM1086 411h1v1h-1zM1008 412h1v1h-1zM1085 412h1v1h-1zM1008 413h1v1h-1zM1085 413h1v1h-1zM1008 414h1v1h-1zM1085 414h1v1h-1zM1008 415h1v1h-1zM1084 415h1v1h-1zM1009 416h1v1h-1zM1084 416h1v1h-1zM1009 417h1v1h-1zM1083 417h1v1h-1zM1009 418h1v1h-1zM1083 418h1v1h-1zM1009 419h1v1h-1zM1083 419h1v1h-1zM1010 420h1v1h-1zM1082 420h1v1h-1zM1010 421h1v1h-1zM1082 421h1v1h-1zM1010 422h1v1h-1zM1081 422h1v1h-1zM1010 423h1v1h-1zM1081 423h1v1h-1zM1011 424h1v1h-1zM1081 424h1v1h-1zM1011 425h1v1h-1zM1080 425h1v1h-1zM1011 426h1v1h-1zM1080 426h1v1h-1zM1011 427h1v1h-1zM1079 427h1v1h-1zM1012 428h1v1h-1zM1079 428h1v1h-1zM1012 429h1v1h-1zM1079 429h1v1h-1zM1012 430h1v1h-1zM1078 430h1v1h-1zM1012 431h1v1h-1zM1078 431h1v1h-1zM1013 432h1v1h-1zM1077 432h1v1h-1zM1013 433h1v1h-1zM1077 433h1v1h-1zM1013 434h1v1h-1zM1076 434h1v1h-1zM1014 435h1v1h-1zM1075 435h1v1h-1zM1014 436h1v1h-1zM1075 436h1v1h-1zM1014 437h1v1h-1zM1074 437h1v1h-1zM1014 438h1v1h-1zM1073 438h1v1h-1zM1015 439h1v1h-1zM1072 439h1v1h-1zM1015 440h1v1h-1zM1071 440h1v1h-1zM1015 441h1v1h-1zM1071 441h1v1h-1zM1015 442h1v1h-1zM1070 442h1v1h-1zM1016 443h1v1h-1zM1069 443h1v1h-1zM1016 444h1v1h-1zM1068 444h1v1h-1zM1016 445h1v1h-1zM1068 445h1v1h-1zM1016 446h1v1h-1zM1067 446h1v1h-1zM1017 447h1v1h-1zM1067 447h1v1h-1zM1017 448h1v1h-1zM1066 448h1v1h-1zM1017 449h1v1h-1zM1066 449h1v1h-1zM1017 450h1v1h-1zM1065 450h1v1h-1zM1018 451h1v1h-1zM1064 451h1v1h-1zM1018 452h1v1h-1zM1064 452h1v1h-1zM1018 453h1v1h-1zM1063 453h1v1h-1zM1018 454h1v1h-1zM1063 454h1v1h-1zM1019 455h1v1h-1zM1062 455h1v1h-1zM1019 456h1v1h-1zM1062 456h1v1h-1zM1019 457h1v1h-1zM1061 457h1v1h-1zM1019 458h1v1h-1zM1061 458h1v1h-1zM1020 459h1v1h-1zM1060 459h1v1h-1zM1020 460h1v1h-1zM1060 460h1v1h-1zM1020 461h1v1h-1zM1059 461h1v1h-1zM1020 462h1v1h-1zM1059 462h1v1h-1zM1021 463h1v1h-1zM1058 463h1v1h-1zM1021 464h1v1h-1zM1058 464h1v1h-1zM1021 465h1v1h-1zM1057 465h1v1h-1zM1022 466h1v1h-1zM1057 466h1v1h-1zM1022 467h1v1h-1zM1056 467h1v1h-1zM1023 468h1v1h-1zM1056 468h1v1h-1zM1023 469h1v1h-1zM1055 469h1v1h-1zM1023 470h1v1h-1zM1055 470h1v1h-1zM1024 471h1v1h-1zM1054 471h1v1h-1zM1024 472h1v1h-1zM1054 472h1v1h-1zM1024 473h1v1h-1zM1053 473h1v1h-1zM1025 474h1v1h-1zM1053 474h1v1h-1zM1025 475h1v1h-1zM1052 475h1v1h-1zM1026 476h1v1h-1zM1052 476h1v1h-1zM1026 477h1v1h-1zM1051 477h1v1h-1zM1026 478h1v1h-1zM1051 478h1v1h-1zM1027 479h1v1h-1zM1050 479h1v1h-1zM1027 480h1v1h-1zM1050 480h1v1h-1zM1027 481h1v1h-1zM1049 481h1v1h-1zM1028 482h1v1h-1zM1049 482h1v1h-1zM1028 483h1v1h-1zM1048 483h1v1h-1zM1029 484h1v1h-1zM1048 484h1v1h-1zM1029 485h1v1h-1zM1047 485h1v1h-1zM1030 486h1v1h-1zM1047 486h1v1h-1zM1031 487h1v1h-1zM1046 487h1v1h-1zM1032 488h1v1h-1zM1046 488h1v1h-1zM1033 489h1v1h-1zM1044 489h2v1h-2zM1034 490h1v1h-1zM1042 490h2v1h-2zM1035 491h1v1h-1zM1040 491h2v1h-2zM1036 492h1v1h-1zM1038 492h2v1h-2zM1037 493h1v1h-1z" fill="#0000cd"/>
<rect x="860" y="253" width="337" height="5" fill="#f93a3a"/>
<rect x="866" y="385" width="337" height="5" fill="#99cc00"/>
</g>
<polygon points="8,30 15,30 11.5,34" fill="#000"/>
<text x="19.5" y="36" font-size="10" fill="#000" textLength="68.5" lengthAdjust="spacingAndGlyphs" stroke="#000" stroke-width="0.15">USDCHF-,Daily</text>
<text x="93.5" y="36" font-size="10" fill="#000" textLength="33.5" lengthAdjust="spacingAndGlyphs" stroke="#000" stroke-width="0.15">0.99354</text>
<text x="129.8" y="36" font-size="10" fill="#000" textLength="33.5" lengthAdjust="spacingAndGlyphs" stroke="#000" stroke-width="0.15">0.99405</text>
<text x="165.5" y="36" font-size="10" fill="#000" textLength="33.5" lengthAdjust="spacingAndGlyphs" stroke="#000" stroke-width="0.15">0.99317</text>
<text x="201.8" y="36" font-size="10" fill="#000" textLength="33.5" lengthAdjust="spacingAndGlyphs" stroke="#000" stroke-width="0.15">0.99325</text>
<rect x="1421" y="32" width="2" height="1" fill="#000"/>
<text x="1425.6" y="36" font-size="10" fill="#000" textLength="33.4" lengthAdjust="spacingAndGlyphs" stroke="#000" stroke-width="0.15">1.02570</text>
<rect x="1421" y="65" width="2" height="1" fill="#000"/>
<text x="1425.6" y="69" font-size="10" fill="#000" textLength="33.4" lengthAdjust="spacingAndGlyphs" stroke="#000" stroke-width="0.15">1.02210</text>
<rect x="1421" y="98" width="2" height="1" fill="#000"/>
<text x="1425.6" y="102" font-size="10" fill="#000" textLength="33.4" lengthAdjust="spacingAndGlyphs" stroke="#000" stroke-width="0.15">1.01850</text>
<rect x="1421" y="131" width="2" height="1" fill="#000"/>
<text x="1425.6" y="135" font-size="10" fill="#000" textLength="33.4" lengthAdjust="spacingAndGlyphs" stroke="#000" stroke-width="0.15">1.01490</text>
<rect x="1421" y="164" width="2" height="1" fill="#000"/>
<text x="1425.6" y="168" font-size="10" fill="#000" textLength="33.4" lengthAdjust="spacingAndGlyphs" stroke="#000" stroke-width="0.15">1.01130</text>
<rect x="1421" y="197" width="2" height="1" fill="#000"/>
<text x="1425.6" y="201" font-size="10" fill="#000" textLength="33.4" lengthAdjust="spacingAndGlyphs" stroke="#000" stroke-width="0.15">1.00770</text>
<rect x="1421" y="230" width="2" height="1" fill="#000"/>
<text x="1425.6" y="234" font-size="10" fill="#000" textLength="33.4" lengthAdjust="spacingAndGlyphs" stroke="#000" stroke-width="0.15">1.00410</text>
<rect x="1421" y="263" width="2" height="1" fill="#000"/>
<text x="1425.6" y="267" font-size="10" fill="#000" textLength="33.4" lengthAdjust="spacingAndGlyphs" stroke="#000" stroke-width="0.15">1.00050</text>
<rect x="1421" y="296" width="2" height="1" fill="#000"/>
<text x="1425.6" y="300" font-size="10" fill="#000" textLength="33.4" lengthAdjust="spacingAndGlyphs" stroke="#000" stroke-width="0.15">0.99690</text>
<rect x="1421" y="362" width="2" height="1" fill="#000"/>
<text x="1425.6" y="366" font-size="10" fill="#000" textLength="33.4" lengthAdjust="spacingAndGlyphs" stroke="#000" stroke-width="0.15">0.98970</text>
<rect x="1421" y="395" width="2" height="1" fill="#000"/>
<text x="1425.6" y="399" font-size="10" fill="#000" textLength="33.4" lengthAdjust="spacingAndGlyphs" stroke="#000" stroke-width="0.15">0.98610</text>
<rect x="1421" y="428" width="2" height="1" fill="#000"/>
<text x="1425.6" y="432" font-size="10" fill="#000" textLength="33.4" lengthAdjust="spacingAndGlyphs" stroke="#000" stroke-width="0.15">0.98250</text>
<rect x="1421" y="461" width="2" height="1" fill="#000"/>
<text x="1425.6" y="465" font-size="10" fill="#000" textLength="33.4" lengthAdjust="spacingAndGlyphs" stroke="#000" stroke-width="0.15">0.97900</text>
<rect x="1421" y="494" width="2" height="1" fill="#000"/>
<text x="1425.6" y="498" font-size="10" fill="#000" textLength="33.4" lengthAdjust="spacingAndGlyphs" stroke="#000" stroke-width="0.15">0.97540</text>
<rect x="1421" y="527" width="2" height="1" fill="#000"/>
<text x="1425.6" y="531" font-size="10" fill="#000" textLength="33.4" lengthAdjust="spacingAndGlyphs" stroke="#000" stroke-width="0.15">0.97180</text>
<rect x="1421" y="560" width="2" height="1" fill="#000"/>
<text x="1425.6" y="564" font-size="10" fill="#000" textLength="33.4" lengthAdjust="spacingAndGlyphs" stroke="#000" stroke-width="0.15">0.96820</text>
<rect x="1422" y="325" width="38" height="11" fill="#000"/>
<rect x="1421" y="329" width="1" height="1" fill="#000"/>
<rect x="1420" y="330" width="1" height="1" fill="#fff"/>
<text x="1425.6" y="334" font-size="10" fill="#fff" textLength="33.4" lengthAdjust="spacingAndGlyphs" stroke="#fff" stroke-width="0.15">0.99325</text>
<g clip-path="url(#clipMacd)">
<rect x="5" y="599" width="1" height="14" fill="#c0c0c0"/>
<rect x="13" y="599" width="1" height="14" fill="#c0c0c0"/>
<rect x="21" y="600" width="1" height="13" fill="#c0c0c0"/>
<rect x="29" y="600" width="1" height="13" fill="#c0c0c0"/>
<rect x="37" y="600" width="1" height="13" fill="#c0c0c0"/>
<rect x="45" y="600" width="1" height="13" fill="#c0c0c0"/>
<rect x="53" y="598" width="1" height="15" fill="#c0c0c0"/>
<rect x="61" y="596" width="1" height="17" fill="#c0c0c0"/>
<rect x="69" y="594" width="1" height="19" fill="#c0c0c0"/>
<rect x="77" y="591" width="1" height="22" fill="#c0c0c0"/>
<rect x="85" y="591" width="1" height="22" fill="#c0c0c0"/>
<rect x="93" y="592" width="1" height="21" fill="#c0c0c0"/>
<rect x="101" y="590" width="1" height="23" fill="#c0c0c0"/>
<rect x="109" y="587" width="1" height="26" fill="#c0c0c0"/>
<rect x="117" y="584" width="1" height="29" fill="#c0c0c0"/>
<rect x="125" y="584" width="1" height="29" fill="#c0c0c0"/>
<rect x="133" y="584" width="1" height="29" fill="#c0c0c0"/>
<rect x="141" y="585" width="1" height="28" fill="#c0c0c0"/>
<rect x="149" y="586" width="1" height="27" fill="#c0c0c0"/>
<rect x="157" y="589" width="1" height="24" fill="#c0c0c0"/>
<rect x="165" y="592" width="1" height="21" fill="#c0c0c0"/>
<rect x="173" y="594" width="1" height="19" fill="#c0c0c0"/>
<rect x="181" y="597" width="1" height="16" fill="#c0c0c0"/>
<rect x="189" y="599" width="1" height="14" fill="#c0c0c0"/>
<rect x="197" y="601" width="1" height="12" fill="#c0c0c0"/>
<rect x="205" y="603" width="1" height="10" fill="#c0c0c0"/>
<rect x="213" y="604" width="1" height="9" fill="#c0c0c0"/>
<rect x="221" y="606" width="1" height="7" fill="#c0c0c0"/>
<rect x="229" y="607" width="1" height="6" fill="#c0c0c0"/>
<rect x="237" y="609" width="1" height="4" fill="#c0c0c0"/>
<rect x="245" y="609" width="1" height="4" fill="#c0c0c0"/>
<rect x="253" y="607" width="1" height="6" fill="#c0c0c0"/>
<rect x="261" y="605" width="1" height="8" fill="#c0c0c0"/>
<rect x="269" y="600" width="1" height="13" fill="#c0c0c0"/>
<rect x="277" y="598" width="1" height="15" fill="#c0c0c0"/>
<rect x="285" y="597" width="1" height="16" fill="#c0c0c0"/>
<rect x="293" y="594" width="1" height="19" fill="#c0c0c0"/>
<rect x="301" y="594" width="1" height="19" fill="#c0c0c0"/>
<rect x="309" y="596" width="1" height="17" fill="#c0c0c0"/>
<rect x="317" y="599" width="1" height="14" fill="#c0c0c0"/>
<rect x="325" y="601" width="1" height="12" fill="#c0c0c0"/>
<rect x="333" y="603" width="1" height="10" fill="#c0c0c0"/>
<rect x="341" y="605" width="1" height="8" fill="#c0c0c0"/>
<rect x="349" y="609" width="1" height="4" fill="#c0c0c0"/>
<rect x="357" y="612" width="1" height="5" fill="#c0c0c0"/>
<rect x="365" y="612" width="1" height="10" fill="#c0c0c0"/>
<rect x="373" y="612" width="1" height="12" fill="#c0c0c0"/>
<rect x="381" y="612" width="1" height="14" fill="#c0c0c0"/>
<rect x="389" y="612" width="1" height="17" fill="#c0c0c0"/>
<rect x="397" y="612" width="1" height="18" fill="#c0c0c0"/>
<rect x="405" y="612" width="1" height="17" fill="#c0c0c0"/>
<rect x="413" y="612" width="1" height="17" fill="#c0c0c0"/>
<rect x="421" y="612" width="1" height="16" fill="#c0c0c0"/>
<rect x="429" y="612" width="1" height="15" fill="#c0c0c0"/>
<rect x="437" y="612" width="1" height="12" fill="#c0c0c0"/>
<rect x="445" y="612" width="1" height="11" fill="#c0c0c0"/>
<rect x="453" y="612" width="1" height="10" fill="#c0c0c0"/>
<rect x="461" y="612" width="1" height="7" fill="#c0c0c0"/>
<rect x="469" y="612" width="1" height="5" fill="#c0c0c0"/>
<rect x="477" y="612" width="1" height="4" fill="#c0c0c0"/>
<rect x="485" y="612" width="1" height="3" fill="#c0c0c0"/>
<rect x="493" y="612" width="1" height="2" fill="#c0c0c0"/>
<rect x="501" y="611" width="1" height="2" fill="#c0c0c0"/>
<rect x="509" y="608" width="1" height="5" fill="#c0c0c0"/>
<rect x="517" y="607" width="1" height="6" fill="#c0c0c0"/>
<rect x="525" y="606" width="1" height="7" fill="#c0c0c0"/>
<rect x="533" y="605" width="1" height="8" fill="#c0c0c0"/>
<rect x="541" y="601" width="1" height="12" fill="#c0c0c0"/>
<rect x="549" y="597" width="1" height="16" fill="#c0c0c0"/>
<rect x="557" y="591" width="1" height="22" fill="#c0c0c0"/>
<rect x="565" y="587" width="1" height="26" fill="#c0c0c0"/>
<rect x="573" y="584" width="1" height="29" fill="#c0c0c0"/>
<rect x="581" y="579" width="1" height="34" fill="#c0c0c0"/>
<rect x="589" y="575" width="1" height="38" fill="#c0c0c0"/>
<rect x="597" y="573" width="1" height="40" fill="#c0c0c0"/>
<rect x="605" y="572" width="1" height="41" fill="#c0c0c0"/>
<rect x="613" y="572" width="1" height="41" fill="#c0c0c0"/>
<rect x="621" y="572" width="1" height="41" fill="#c0c0c0"/>
<rect x="629" y="573" width="1" height="40" fill="#c0c0c0"/>
<rect x="637" y="575" width="1" height="38" fill="#c0c0c0"/>
<rect x="645" y="576" width="1" height="37" fill="#c0c0c0"/>
<rect x="653" y="578" width="1" height="35" fill="#c0c0c0"/>
<rect x="661" y="581" width="1" height="32" fill="#c0c0c0"/>
<rect x="669" y="583" width="1" height="30" fill="#c0c0c0"/>
<rect x="677" y="583" width="1" height="30" fill="#c0c0c0"/>
<rect x="685" y="584" width="1" height="29" fill="#c0c0c0"/>
<rect x="693" y="587" width="1" height="26" fill="#c0c0c0"/>
<rect x="701" y="592" width="1" height="21" fill="#c0c0c0"/>
<rect x="709" y="597" width="1" height="16" fill="#c0c0c0"/>
<rect x="717" y="604" width="1" height="9" fill="#c0c0c0"/>
<rect x="725" y="608" width="1" height="5" fill="#c0c0c0"/>
<rect x="733" y="611" width="1" height="2" fill="#c0c0c0"/>
<rect x="741" y="612" width="1" height="1" fill="#c0c0c0"/>
<rect x="749" y="612" width="1" height="2" fill="#c0c0c0"/>
<rect x="757" y="612" width="1" height="3" fill="#c0c0c0"/>
<rect x="765" y="612" width="1" height="4" fill="#c0c0c0"/>
<rect x="773" y="612" width="1" height="4" fill="#c0c0c0"/>
<rect x="781" y="612" width="1" height="5" fill="#c0c0c0"/>
<rect x="789" y="612" width="1" height="10" fill="#c0c0c0"/>
<rect x="797" y="612" width="1" height="14" fill="#c0c0c0"/>
<rect x="805" y="612" width="1" height="16" fill="#c0c0c0"/>
<rect x="813" y="612" width="1" height="17" fill="#c0c0c0"/>
<rect x="821" y="612" width="1" height="16" fill="#c0c0c0"/>
<rect x="829" y="612" width="1" height="14" fill="#c0c0c0"/>
<rect x="837" y="612" width="1" height="13" fill="#c0c0c0"/>
<rect x="845" y="612" width="1" height="16" fill="#c0c0c0"/>
<rect x="853" y="612" width="1" height="19" fill="#c0c0c0"/>
<rect x="861" y="612" width="1" height="25" fill="#c0c0c0"/>
<rect x="869" y="612" width="1" height="29" fill="#c0c0c0"/>
<rect x="877" y="612" width="1" height="31" fill="#c0c0c0"/>
<rect x="885" y="612" width="1" height="34" fill="#c0c0c0"/>
<rect x="893" y="612" width="1" height="39" fill="#c0c0c0"/>
<rect x="901" y="612" width="1" height="40" fill="#c0c0c0"/>
<rect x="909" y="612" width="1" height="41" fill="#c0c0c0"/>
<rect x="917" y="612" width="1" height="40" fill="#c0c0c0"/>
<rect x="925" y="612" width="1" height="37" fill="#c0c0c0"/>
<rect x="933" y="612" width="1" height="35" fill="#c0c0c0"/>
<rect x="941" y="612" width="1" height="30" fill="#c0c0c0"/>
<rect x="949" y="612" width="1" height="25" fill="#c0c0c0"/>
<rect x="957" y="612" width="1" height="22" fill="#c0c0c0"/>
<rect x="965" y="612" width="1" height="18" fill="#c0c0c0"/>
<rect x="973" y="612" width="1" height="19" fill="#c0c0c0"/>
<rect x="981" y="612" width="1" height="26" fill="#c0c0c0"/>
<rect x="989" y="612" width="1" height="34" fill="#c0c0c0"/>
<rect x="997" y="612" width="1" height="41" fill="#c0c0c0"/>
<rect x="1005" y="612" width="1" height="48" fill="#c0c0c0"/>
<rect x="1013" y="612" width="1" height="51" fill="#c0c0c0"/>
<rect x="1021" y="612" width="1" height="51" fill="#c0c0c0"/>
<rect x="1029" y="612" width="1" height="52" fill="#c0c0c0"/>
<rect x="1037" y="612" width="1" height="52" fill="#c0c0c0"/>
<rect x="1045" y="612" width="1" height="49" fill="#c0c0c0"/>
<rect x="1053" y="612" width="1" height="42" fill="#c0c0c0"/>
<rect x="1061" y="612" width="1" height="37" fill="#c0c0c0"/>
<rect x="1069" y="612" width="1" height="33" fill="#c0c0c0"/>
<rect x="1077" y="612" width="1" height="29" fill="#c0c0c0"/>
<rect x="1085" y="612" width="1" height="22" fill="#c0c0c0"/>
<rect x="1093" y="612" width="1" height="17" fill="#c0c0c0"/>
<rect x="1101" y="612" width="1" height="11" fill="#c0c0c0"/>
<rect x="1109" y="612" width="1" height="6" fill="#c0c0c0"/>
<rect x="1117" y="612" width="1" height="2" fill="#c0c0c0"/>
<path d="M641 574h3v1h-3zM647 574h3v1h-3zM653 574h3v1h-3zM635 575h3v1h-3zM659 575h3v1h-3zM629 576h3v1h-3zM665 576h3v1h-3zM671 576h2v1h-2zM623 577h3v1h-3zM673 577h1v1h-1zM677 577h3v1h-3zM683 578h3v1h-3zM617 579h3v1h-3zM689 579h2v1h-2zM691 580h1v1h-1zM612 581h2v1h-2zM695 581h3v1h-3zM611 582h1v1h-1zM701 582h2v1h-2zM703 583h1v1h-1zM606 584h2v1h-2zM707 584h3v1h-3zM605 585h1v1h-1zM601 586h1v1h-1zM713 586h1v1h-1zM145 587h1v1h-1zM149 587h3v1h-3zM155 587h3v1h-3zM161 587h3v1h-3zM167 587h3v1h-3zM173 587h3v1h-3zM599 587h2v1h-2zM714 587h2v1h-2zM137 588h3v1h-3zM143 588h2v1h-2zM179 588h3v1h-3zM131 589h3v1h-3zM185 589h2v1h-2zM594 589h2v1h-2zM719 589h2v1h-2zM125 590h3v1h-3zM187 590h1v1h-1zM593 590h1v1h-1zM721 590h1v1h-1zM119 591h3v1h-3zM191 591h3v1h-3zM725 591h2v1h-2zM113 592h3v1h-3zM197 592h2v1h-2zM588 592h2v1h-2zM727 592h1v1h-1zM107 593h3v1h-3zM199 593h1v1h-1zM587 593h1v1h-1zM731 593h1v1h-1zM103 594h1v1h-1zM203 594h3v1h-3zM583 594h1v1h-1zM732 594h2v1h-2zM97 595h1v1h-1zM101 595h2v1h-2zM209 595h2v1h-2zM581 595h2v1h-2zM89 596h3v1h-3zM95 596h2v1h-2zM211 596h1v1h-1zM737 596h3v1h-3zM83 597h3v1h-3zM215 597h3v1h-3zM576 597h2v1h-2zM73 598h1v1h-1zM77 598h3v1h-3zM221 598h2v1h-2zM323 598h3v1h-3zM329 598h3v1h-3zM335 598h2v1h-2zM575 598h1v1h-1zM743 598h1v1h-1zM5 599h3v1h-3zM11 599h3v1h-3zM17 599h3v1h-3zM23 599h2v1h-2zM59 599h3v1h-3zM65 599h3v1h-3zM71 599h2v1h-2zM223 599h1v1h-1zM313 599h1v1h-1zM317 599h3v1h-3zM337 599h1v1h-1zM341 599h3v1h-3zM571 599h1v1h-1zM744 599h2v1h-2zM25 600h1v1h-1zM29 600h3v1h-3zM35 600h3v1h-3zM41 600h3v1h-3zM47 600h3v1h-3zM53 600h3v1h-3zM227 600h3v1h-3zM305 600h3v1h-3zM311 600h2v1h-2zM347 600h3v1h-3zM569 600h2v1h-2zM233 601h2v1h-2zM299 601h3v1h-3zM353 601h2v1h-2zM564 601h2v1h-2zM749 601h2v1h-2zM235 602h1v1h-1zM295 602h1v1h-1zM355 602h1v1h-1zM563 602h1v1h-1zM751 602h1v1h-1zM239 603h3v1h-3zM289 603h1v1h-1zM293 603h2v1h-2zM359 603h2v1h-2zM559 603h1v1h-1zM755 603h1v1h-1zM245 604h3v1h-3zM281 604h3v1h-3zM287 604h2v1h-2zM361 604h1v1h-1zM557 604h2v1h-2zM756 604h2v1h-2zM251 605h3v1h-3zM275 605h3v1h-3zM365 605h2v1h-2zM553 605h1v1h-1zM257 606h3v1h-3zM263 606h3v1h-3zM269 606h3v1h-3zM367 606h1v1h-1zM551 606h2v1h-2zM761 606h3v1h-3zM371 607h1v1h-1zM547 607h1v1h-1zM372 608h2v1h-2zM545 608h2v1h-2zM767 608h2v1h-2zM539 609h3v1h-3zM769 609h1v1h-1zM377 610h3v1h-3zM533 610h3v1h-3zM773 610h2v1h-2zM527 611h3v1h-3zM775 611h1v1h-1zM383 612h1v1h-1zM523 612h1v1h-1zM779 612h3v1h-3zM384 613h2v1h-2zM521 613h2v1h-2zM785 613h2v1h-2zM515 614h3v1h-3zM787 614h1v1h-1zM389 615h2v1h-2zM509 615h3v1h-3zM791 615h3v1h-3zM391 616h1v1h-1zM503 616h3v1h-3zM797 616h2v1h-2zM395 617h1v1h-1zM499 617h1v1h-1zM799 617h1v1h-1zM396 618h2v1h-2zM497 618h2v1h-2zM803 618h3v1h-3zM401 619h2v1h-2zM491 619h3v1h-3zM809 619h3v1h-3zM403 620h1v1h-1zM485 620h3v1h-3zM815 620h3v1h-3zM407 621h2v1h-2zM479 621h3v1h-3zM821 621h3v1h-3zM409 622h1v1h-1zM473 622h3v1h-3zM827 622h3v1h-3zM413 623h2v1h-2zM467 623h3v1h-3zM833 623h3v1h-3zM839 623h2v1h-2zM415 624h1v1h-1zM463 624h1v1h-1zM841 624h1v1h-1zM845 624h2v1h-2zM419 625h3v1h-3zM457 625h1v1h-1zM461 625h2v1h-2zM847 625h1v1h-1zM425 626h3v1h-3zM431 626h2v1h-2zM443 626h3v1h-3zM449 626h3v1h-3zM455 626h2v1h-2zM851 626h3v1h-3zM433 627h1v1h-1zM437 627h3v1h-3zM857 627h2v1h-2zM859 628h1v1h-1zM863 628h2v1h-2zM865 629h1v1h-1zM869 629h2v1h-2zM871 630h1v1h-1zM875 631h3v1h-3zM881 632h2v1h-2zM883 633h1v1h-1zM1117 633h1v1h-1zM887 634h3v1h-3zM1115 634h2v1h-2zM893 635h2v1h-2zM895 636h1v1h-1zM899 637h1v1h-1zM1110 637h2v1h-2zM900 638h2v1h-2zM985 638h1v1h-1zM989 638h3v1h-3zM1109 638h1v1h-1zM979 639h1v1h-1zM983 639h2v1h-2zM995 639h3v1h-3zM905 640h1v1h-1zM977 640h2v1h-2zM1001 640h3v1h-3zM1105 640h1v1h-1zM906 641h2v1h-2zM971 641h3v1h-3zM1007 641h2v1h-2zM1104 641h1v1h-1zM967 642h1v1h-1zM1009 642h1v1h-1zM1103 642h1v1h-1zM911 643h3v1h-3zM965 643h2v1h-2zM1013 643h2v1h-2zM917 644h2v1h-2zM959 644h3v1h-3zM1015 644h1v1h-1zM1099 644h1v1h-1zM919 645h1v1h-1zM955 645h1v1h-1zM1019 645h3v1h-3zM1097 645h2v1h-2zM923 646h3v1h-3zM953 646h2v1h-2zM929 647h3v1h-3zM935 647h3v1h-3zM941 647h3v1h-3zM947 647h3v1h-3zM1025 647h1v1h-1zM1026 648h2v1h-2zM1092 648h2v1h-2zM1091 649h1v1h-1zM1031 650h1v1h-1zM1032 651h2v1h-2zM1086 651h2v1h-2zM1085 652h1v1h-1zM1037 653h2v1h-2zM1081 653h1v1h-1zM1039 654h1v1h-1zM1079 654h2v1h-2zM1043 655h1v1h-1zM1075 655h1v1h-1zM1044 656h2v1h-2zM1073 656h2v1h-2zM1049 657h2v1h-2zM1067 657h3v1h-3zM1051 658h1v1h-1zM1055 658h3v1h-3zM1061 658h3v1h-3z" fill="#ff0000"/>
</g>
<text x="8.8" y="578" font-size="10" fill="#000" textLength="66.5" lengthAdjust="spacingAndGlyphs" stroke="#000" stroke-width="0.15">MACD(12,26,9)</text>
<text x="77.8" y="578" font-size="10" fill="#000" textLength="41" lengthAdjust="spacingAndGlyphs" stroke="#000" stroke-width="0.15">-0.000204</text>
<text x="121.5" y="578" font-size="10" fill="#000" textLength="41.5" lengthAdjust="spacingAndGlyphs" stroke="#000" stroke-width="0.15">-0.002885</text>
<rect x="1421" y="567" width="2" height="1" fill="#000"/>
<text x="1423.6" y="576" font-size="10" fill="#000" textLength="32.8" lengthAdjust="spacingAndGlyphs" stroke="#000" stroke-width="0.15">0.00613</text>
<rect x="1421" y="612" width="2" height="1" fill="#000"/>
<text x="1423.6" y="616" font-size="10" fill="#000" textLength="18.2" lengthAdjust="spacingAndGlyphs" stroke="#000" stroke-width="0.15">0.00</text>
<rect x="1421" y="667" width="2" height="1" fill="#000"/>
<text x="1423.6" y="665" font-size="10" fill="#000" textLength="35.8" lengthAdjust="spacingAndGlyphs" stroke="#000" stroke-width="0.15">-0.00761</text>
<path d="M6 710h3v1h-3zM12 710h3v1h-3zM18 710h3v1h-3zM24 710h3v1h-3zM30 710h3v1h-3zM36 710h3v1h-3zM42 710h3v1h-3zM48 710h3v1h-3zM54 710h3v1h-3zM60 710h3v1h-3zM66 710h3v1h-3zM72 710h3v1h-3zM78 710h3v1h-3zM84 710h3v1h-3zM90 710h3v1h-3zM96 710h3v1h-3zM102 710h3v1h-3zM108 710h3v1h-3zM114 710h3v1h-3zM120 710h3v1h-3zM126 710h3v1h-3zM132 710h3v1h-3zM138 710h3v1h-3zM144 710h3v1h-3zM150 710h3v1h-3zM156 710h3v1h-3zM162 710h3v1h-3zM168 710h3v1h-3zM174 710h3v1h-3zM180 710h3v1h-3zM186 710h3v1h-3zM192 710h3v1h-3zM198 710h3v1h-3zM204 710h3v1h-3zM210 710h3v1h-3zM216 710h3v1h-3zM222 710h3v1h-3zM228 710h3v1h-3zM234 710h3v1h-3zM240 710h3v1h-3zM246 710h3v1h-3zM252 710h3v1h-3zM258 710h3v1h-3zM264 710h3v1h-3zM270 710h3v1h-3zM276 710h3v1h-3zM282 710h3v1h-3zM288 710h3v1h-3zM294 710h3v1h-3zM300 710h3v1h-3zM306 710h3v1h-3zM312 710h3v1h-3zM318 710h3v1h-3zM324 710h3v1h-3zM330 710h3v1h-3zM336 710h3v1h-3zM342 710h3v1h-3zM348 710h3v1h-3zM354 710h3v1h-3zM360 710h3v1h-3zM366 710h3v1h-3zM372 710h3v1h-3zM378 710h3v1h-3zM384 710h3v1h-3zM390 710h3v1h-3zM396 710h3v1h-3zM402 710h3v1h-3zM408 710h3v1h-3zM414 710h3v1h-3zM420 710h3v1h-3zM426 710h3v1h-3zM432 710h3v1h-3zM438 710h3v1h-3zM444 710h3v1h-3zM450 710h3v1h-3zM456 710h3v1h-3zM462 710h3v1h-3zM468 710h3v1h-3zM474 710h3v1h-3zM480 710h3v1h-3zM486 710h3v1h-3zM492 710h3v1h-3zM498 710h3v1h-3zM504 710h3v1h-3zM510 710h3v1h-3zM516 710h3v1h-3zM522 710h3v1h-3zM528 710h3v1h-3zM534 710h3v1h-3zM540 710h3v1h-3zM546 710h3v1h-3zM552 710h3v1h-3zM558 710h3v1h-3zM564 710h3v1h-3zM570 710h3v1h-3zM576 710h3v1h-3zM582 710h3v1h-3zM588 710h3v1h-3zM594 710h3v1h-3zM600 710h3v1h-3zM606 710h3v1h-3zM612 710h3v1h-3zM618 710h3v1h-3zM624 710h3v1h-3zM630 710h3v1h-3zM636 710h3v1h-3zM642 710h3v1h-3zM648 710h3v1h-3zM654 710h3v1h-3zM660 710h3v1h-3zM666 710h3v1h-3zM672 710h3v1h-3zM678 710h3v1h-3zM684 710h3v1h-3zM690 710h3v1h-3zM696 710h3v1h-3zM702 710h3v1h-3zM708 710h3v1h-3zM714 710h3v1h-3zM720 710h3v1h-3zM726 710h3v1h-3zM732 710h3v1h-3zM738 710h3v1h-3zM744 710h3v1h-3zM750 710h3v1h-3zM756 710h3v1h-3zM762 710h3v1h-3zM768 710h3v1h-3zM774 710h3v1h-3zM780 710h3v1h-3zM786 710h3v1h-3zM792 710h3v1h-3zM798 710h3v1h-3zM804 710h3v1h-3zM810 710h3v1h-3zM816 710h3v1h-3zM822 710h3v1h-3zM828 710h3v1h-3zM834 710h3v1h-3zM840 710h3v1h-3zM846 710h3v1h-3zM852 710h3v1h-3zM858 710h3v1h-3zM864 710h3v1h-3zM870 710h3v1h-3zM876 710h3v1h-3zM882 710h3v1h-3zM888 710h3v1h-3zM894 710h3v1h-3zM900 710h3v1h-3zM906 710h3v1h-3zM912 710h3v1h-3zM918 710h3v1h-3zM924 710h3v1h-3zM930 710h3v1h-3zM936 710h3v1h-3zM942 710h3v1h-3zM948 710h3v1h-3zM954 710h3v1h-3zM960 710h3v1h-3zM966 710h3v1h-3zM972 710h3v1h-3zM978 710h3v1h-3zM984 710h3v1h-3zM990 710h3v1h-3zM996 710h3v1h-3zM1002 710h3v1h-3zM1008 710h3v1h-3zM1014 710h3v1h-3zM1020 710h3v1h-3zM1026 710h3v1h-3zM1032 710h3v1h-3zM1038 710h3v1h-3zM1044 710h3v1h-3zM1050 710h3v1h-3zM1056 710h3v1h-3zM1062 710h3v1h-3zM1068 710h3v1h-3zM1074 710h3v1h-3zM1080 710h3v1h-3zM1086 710h3v1h-3zM1092 710h3v1h-3zM1098 710h3v1h-3zM1104 710h3v1h-3zM1110 710h3v1h-3zM1116 710h3v1h-3zM1122 710h3v1h-3zM1128 710h3v1h-3zM1134 710h3v1h-3zM1140 710h3v1h-3zM1146 710h3v1h-3zM1152 710h3v1h-3zM1158 710h3v1h-3zM1164 710h3v1h-3zM1170 710h3v1h-3zM1176 710h3v1h-3zM1182 710h3v1h-3zM1188 710h3v1h-3zM1194 710h3v1h-3zM1200 710h3v1h-3zM1206 710h3v1h-3zM1212 710h3v1h-3zM1218 710h3v1h-3zM1224 710h3v1h-3zM1230 710h3v1h-3zM1236 710h3v1h-3zM1242 710h3v1h-3zM1248 710h3v1h-3zM1254 710h3v1h-3zM1260 710h3v1h-3zM1266 710h3v1h-3zM1272 710h3v1h-3zM1278 710h3v1h-3zM1284 710h3v1h-3zM1290 710h3v1h-3zM1296 710h3v1h-3zM1302 710h3v1h-3zM1308 710h3v1h-3zM1314 710h3v1h-3zM1320 710h3v1h-3zM1326 710h3v1h-3zM1332 710h3v1h-3zM1338 710h3v1h-3zM1344 710h3v1h-3zM1350 710h3v1h-3zM1356 710h3v1h-3zM1362 710h3v1h-3zM1368 710h3v1h-3zM1374 710h3v1h-3zM1380 710h3v1h-3zM1386 710h3v1h-3zM1392 710h3v1h-3zM1398 710h3v1h-3zM1404 710h3v1h-3zM1410 710h3v1h-3zM1416 710h3v1h-3z" fill="#c0c0c0"/>
<path d="M6 761h3v1h-3zM12 761h3v1h-3zM18 761h3v1h-3zM24 761h3v1h-3zM30 761h3v1h-3zM36 761h3v1h-3zM42 761h3v1h-3zM48 761h3v1h-3zM54 761h3v1h-3zM60 761h3v1h-3zM66 761h3v1h-3zM72 761h3v1h-3zM78 761h3v1h-3zM84 761h3v1h-3zM90 761h3v1h-3zM96 761h3v1h-3zM102 761h3v1h-3zM108 761h3v1h-3zM114 761h3v1h-3zM120 761h3v1h-3zM126 761h3v1h-3zM132 761h3v1h-3zM138 761h3v1h-3zM144 761h3v1h-3zM150 761h3v1h-3zM156 761h3v1h-3zM162 761h3v1h-3zM168 761h3v1h-3zM174 761h3v1h-3zM180 761h3v1h-3zM186 761h3v1h-3zM192 761h3v1h-3zM198 761h3v1h-3zM204 761h3v1h-3zM210 761h3v1h-3zM216 761h3v1h-3zM222 761h3v1h-3zM228 761h3v1h-3zM234 761h3v1h-3zM240 761h3v1h-3zM246 761h3v1h-3zM252 761h3v1h-3zM258 761h3v1h-3zM264 761h3v1h-3zM270 761h3v1h-3zM276 761h3v1h-3zM282 761h3v1h-3zM288 761h3v1h-3zM294 761h3v1h-3zM300 761h3v1h-3zM306 761h3v1h-3zM312 761h3v1h-3zM318 761h3v1h-3zM324 761h3v1h-3zM330 761h3v1h-3zM336 761h3v1h-3zM342 761h3v1h-3zM348 761h3v1h-3zM354 761h3v1h-3zM360 761h3v1h-3zM366 761h3v1h-3zM372 761h3v1h-3zM378 761h3v1h-3zM384 761h3v1h-3zM390 761h3v1h-3zM396 761h3v1h-3zM402 761h3v1h-3zM408 761h3v1h-3zM414 761h3v1h-3zM420 761h3v1h-3zM426 761h3v1h-3zM432 761h3v1h-3zM438 761h3v1h-3zM444 761h3v1h-3zM450 761h3v1h-3zM456 761h3v1h-3zM462 761h3v1h-3zM468 761h3v1h-3zM474 761h3v1h-3zM480 761h3v1h-3zM486 761h3v1h-3zM492 761h3v1h-3zM498 761h3v1h-3zM504 761h3v1h-3zM510 761h3v1h-3zM516 761h3v1h-3zM522 761h3v1h-3zM528 761h3v1h-3zM534 761h3v1h-3zM540 761h3v1h-3zM546 761h3v1h-3zM552 761h3v1h-3zM558 761h3v1h-3zM564 761h3v1h-3zM570 761h3v1h-3zM576 761h3v1h-3zM582 761h3v1h-3zM588 761h3v1h-3zM594 761h3v1h-3zM600 761h3v1h-3zM606 761h3v1h-3zM612 761h3v1h-3zM618 761h3v1h-3zM624 761h3v1h-3zM630 761h3v1h-3zM636 761h3v1h-3zM642 761h3v1h-3zM648 761h3v1h-3zM654 761h3v1h-3zM660 761h3v1h-3zM666 761h3v1h-3zM672 761h3v1h-3zM678 761h3v1h-3zM684 761h3v1h-3zM690 761h3v1h-3zM696 761h3v1h-3zM702 761h3v1h-3zM708 761h3v1h-3zM714 761h3v1h-3zM720 761h3v1h-3zM726 761h3v1h-3zM732 761h3v1h-3zM738 761h3v1h-3zM744 761h3v1h-3zM750 761h3v1h-3zM756 761h3v1h-3zM762 761h3v1h-3zM768 761h3v1h-3zM774 761h3v1h-3zM780 761h3v1h-3zM786 761h3v1h-3zM792 761h3v1h-3zM798 761h3v1h-3zM804 761h3v1h-3zM810 761h3v1h-3zM816 761h3v1h-3zM822 761h3v1h-3zM828 761h3v1h-3zM834 761h3v1h-3zM840 761h3v1h-3zM846 761h3v1h-3zM852 761h3v1h-3zM858 761h3v1h-3zM864 761h3v1h-3zM870 761h3v1h-3zM876 761h3v1h-3zM882 761h3v1h-3zM888 761h3v1h-3zM894 761h3v1h-3zM900 761h3v1h-3zM906 761h3v1h-3zM912 761h3v1h-3zM918 761h3v1h-3zM924 761h3v1h-3zM930 761h3v1h-3zM936 761h3v1h-3zM942 761h3v1h-3zM948 761h3v1h-3zM954 761h3v1h-3zM960 761h3v1h-3zM966 761h3v1h-3zM972 761h3v1h-3zM978 761h3v1h-3zM984 761h3v1h-3zM990 761h3v1h-3zM996 761h3v1h-3zM1002 761h3v1h-3zM1008 761h3v1h-3zM1014 761h3v1h-3zM1020 761h3v1h-3zM1026 761h3v1h-3zM1032 761h3v1h-3zM1038 761h3v1h-3zM1044 761h3v1h-3zM1050 761h3v1h-3zM1056 761h3v1h-3zM1062 761h3v1h-3zM1068 761h3v1h-3zM1074 761h3v1h-3zM1080 761h3v1h-3zM1086 761h3v1h-3zM1092 761h3v1h-3zM1098 761h3v1h-3zM1104 761h3v1h-3zM1110 761h3v1h-3zM1116 761h3v1h-3zM1122 761h3v1h-3zM1128 761h3v1h-3zM1134 761h3v1h-3zM1140 761h3v1h-3zM1146 761h3v1h-3zM1152 761h3v1h-3zM1158 761h3v1h-3zM1164 761h3v1h-3zM1170 761h3v1h-3zM1176 761h3v1h-3zM1182 761h3v1h-3zM1188 761h3v1h-3zM1194 761h3v1h-3zM1200 761h3v1h-3zM1206 761h3v1h-3zM1212 761h3v1h-3zM1218 761h3v1h-3zM1224 761h3v1h-3zM1230 761h3v1h-3zM1236 761h3v1h-3zM1242 761h3v1h-3zM1248 761h3v1h-3zM1254 761h3v1h-3zM1260 761h3v1h-3zM1266 761h3v1h-3zM1272 761h3v1h-3zM1278 761h3v1h-3zM1284 761h3v1h-3zM1290 761h3v1h-3zM1296 761h3v1h-3zM1302 761h3v1h-3zM1308 761h3v1h-3zM1314 761h3v1h-3zM1320 761h3v1h-3zM1326 761h3v1h-3zM1332 761h3v1h-3zM1338 761h3v1h-3zM1344 761h3v1h-3zM1350 761h3v1h-3zM1356 761h3v1h-3zM1362 761h3v1h-3zM1368 761h3v1h-3zM1374 761h3v1h-3zM1380 761h3v1h-3zM1386 761h3v1h-3zM1392 761h3v1h-3zM1398 761h3v1h-3zM1404 761h3v1h-3zM1410 761h3v1h-3zM1416 761h3v1h-3z" fill="#c0c0c0"/>
<g clip-path="url(#clipRsi)">
<path d="M581 696h10v1h-10zM579 697h2v1h-2zM591 697h4v1h-4zM578 698h1v1h-1zM595 698h3v1h-3zM577 699h1v1h-1zM598 699h2v1h-2zM557 700h2v1h-2zM575 700h2v1h-2zM600 700h2v1h-2zM555 701h2v1h-2zM559 701h2v1h-2zM574 701h1v1h-1zM602 701h2v1h-2zM617 701h6v1h-6zM554 702h1v1h-1zM561 702h3v1h-3zM569 702h5v1h-5zM604 702h13v1h-13zM623 702h2v1h-2zM553 703h1v1h-1zM564 703h5v1h-5zM625 703h3v1h-3zM551 704h2v1h-2zM628 704h2v1h-2zM550 705h1v1h-1zM630 705h1v1h-1zM549 706h1v1h-1zM631 706h1v1h-1zM547 707h2v1h-2zM632 707h1v1h-1zM116 708h2v1h-2zM546 708h1v1h-1zM633 708h1v1h-1zM644 708h2v1h-2zM114 709h2v1h-2zM118 709h1v1h-1zM545 709h1v1h-1zM634 709h1v1h-1zM642 709h2v1h-2zM646 709h1v1h-1zM112 710h2v1h-2zM118 710h1v1h-1zM543 710h2v1h-2zM635 710h1v1h-1zM640 710h2v1h-2zM647 710h1v1h-1zM110 711h2v1h-2zM119 711h1v1h-1zM269 711h1v1h-1zM542 711h1v1h-1zM636 711h1v1h-1zM638 711h2v1h-2zM648 711h1v1h-1zM108 712h2v1h-2zM120 712h1v1h-1zM268 712h1v1h-1zM270 712h1v1h-1zM541 712h1v1h-1zM637 712h1v1h-1zM649 712h1v1h-1zM681 712h5v1h-5zM105 713h3v1h-3zM120 713h1v1h-1zM268 713h1v1h-1zM270 713h1v1h-1zM540 713h1v1h-1zM650 713h1v1h-1zM677 713h4v1h-4zM685 713h1v1h-1zM69 714h9v1h-9zM103 714h2v1h-2zM121 714h1v1h-1zM267 714h1v1h-1zM271 714h1v1h-1zM539 714h1v1h-1zM651 714h1v1h-1zM675 714h2v1h-2zM686 714h1v1h-1zM67 715h2v1h-2zM78 715h1v1h-1zM101 715h2v1h-2zM122 715h1v1h-1zM266 715h1v1h-1zM272 715h1v1h-1zM538 715h1v1h-1zM652 715h1v1h-1zM674 715h1v1h-1zM686 715h1v1h-1zM65 716h2v1h-2zM79 716h1v1h-1zM100 716h1v1h-1zM122 716h1v1h-1zM266 716h1v1h-1zM273 716h1v1h-1zM292 716h2v1h-2zM537 716h1v1h-1zM653 716h1v1h-1zM673 716h1v1h-1zM687 716h1v1h-1zM64 717h1v1h-1zM80 717h1v1h-1zM99 717h1v1h-1zM123 717h1v1h-1zM265 717h1v1h-1zM273 717h1v1h-1zM290 717h2v1h-2zM294 717h1v1h-1zM537 717h1v1h-1zM654 717h2v1h-2zM671 717h2v1h-2zM687 717h1v1h-1zM62 718h2v1h-2zM81 718h1v1h-1zM98 718h1v1h-1zM124 718h1v1h-1zM264 718h1v1h-1zM274 718h1v1h-1zM288 718h2v1h-2zM295 718h1v1h-1zM536 718h1v1h-1zM656 718h1v1h-1zM670 718h1v1h-1zM688 718h1v1h-1zM60 719h2v1h-2zM82 719h1v1h-1zM97 719h1v1h-1zM124 719h1v1h-1zM264 719h1v1h-1zM275 719h1v1h-1zM286 719h2v1h-2zM296 719h1v1h-1zM535 719h1v1h-1zM657 719h2v1h-2zM667 719h3v1h-3zM688 719h1v1h-1zM57 720h3v1h-3zM83 720h1v1h-1zM97 720h1v1h-1zM125 720h12v1h-12zM263 720h1v1h-1zM276 720h1v1h-1zM283 720h3v1h-3zM297 720h1v1h-1zM534 720h1v1h-1zM659 720h2v1h-2zM663 720h4v1h-4zM689 720h1v1h-1zM55 721h2v1h-2zM84 721h1v1h-1zM96 721h1v1h-1zM137 721h13v1h-13zM262 721h1v1h-1zM276 721h1v1h-1zM279 721h4v1h-4zM298 721h1v1h-1zM532 721h2v1h-2zM661 721h2v1h-2zM689 721h1v1h-1zM53 722h2v1h-2zM85 722h2v1h-2zM95 722h1v1h-1zM150 722h1v1h-1zM253 722h4v1h-4zM262 722h1v1h-1zM277 722h2v1h-2zM299 722h1v1h-1zM530 722h2v1h-2zM689 722h1v1h-1zM51 723h2v1h-2zM87 723h4v1h-4zM94 723h1v1h-1zM151 723h1v1h-1zM252 723h1v1h-1zM257 723h5v1h-5zM300 723h1v1h-1zM507 723h12v1h-12zM528 723h2v1h-2zM690 723h1v1h-1zM49 724h2v1h-2zM91 724h3v1h-3zM151 724h1v1h-1zM252 724h1v1h-1zM301 724h1v1h-1zM503 724h4v1h-4zM519 724h4v1h-4zM526 724h2v1h-2zM690 724h1v1h-1zM48 725h1v1h-1zM152 725h1v1h-1zM251 725h1v1h-1zM302 725h1v1h-1zM501 725h2v1h-2zM523 725h3v1h-3zM691 725h1v1h-1zM46 726h2v1h-2zM153 726h1v1h-1zM251 726h1v1h-1zM303 726h1v1h-1zM500 726h1v1h-1zM691 726h1v1h-1zM1100 726h5v1h-5zM41 727h5v1h-5zM154 727h1v1h-1zM250 727h1v1h-1zM303 727h1v1h-1zM499 727h1v1h-1zM692 727h1v1h-1zM1098 727h2v1h-2zM1105 727h8v1h-8zM13 728h2v1h-2zM35 728h6v1h-6zM155 728h1v1h-1zM250 728h1v1h-1zM304 728h1v1h-1zM497 728h2v1h-2zM692 728h1v1h-1zM1096 728h2v1h-2zM1113 728h5v1h-5zM11 729h2v1h-2zM15 729h2v1h-2zM31 729h4v1h-4zM155 729h1v1h-1zM249 729h1v1h-1zM305 729h1v1h-1zM496 729h1v1h-1zM693 729h1v1h-1zM1085 729h4v1h-4zM1094 729h2v1h-2zM10 730h1v1h-1zM17 730h3v1h-3zM25 730h6v1h-6zM156 730h1v1h-1zM248 730h1v1h-1zM306 730h1v1h-1zM473 730h6v1h-6zM495 730h1v1h-1zM693 730h1v1h-1zM1084 730h1v1h-1zM1089 730h5v1h-5zM9 731h1v1h-1zM20 731h5v1h-5zM157 731h2v1h-2zM248 731h1v1h-1zM307 731h1v1h-1zM461 731h12v1h-12zM479 731h2v1h-2zM494 731h1v1h-1zM694 731h1v1h-1zM1084 731h1v1h-1zM7 732h2v1h-2zM159 732h4v1h-4zM169 732h6v1h-6zM247 732h1v1h-1zM307 732h1v1h-1zM460 732h1v1h-1zM481 732h3v1h-3zM489 732h5v1h-5zM695 732h1v1h-1zM1083 732h1v1h-1zM6 733h1v1h-1zM163 733h6v1h-6zM175 733h4v1h-4zM211 733h3v1h-3zM247 733h1v1h-1zM308 733h1v1h-1zM437 733h2v1h-2zM459 733h1v1h-1zM484 733h5v1h-5zM696 733h1v1h-1zM964 733h2v1h-2zM1082 733h1v1h-1zM5 734h1v1h-1zM179 734h6v1h-6zM193 734h8v1h-8zM207 734h4v1h-4zM214 734h1v1h-1zM246 734h1v1h-1zM309 734h10v1h-10zM436 734h1v1h-1zM439 734h2v1h-2zM457 734h2v1h-2zM697 734h1v1h-1zM962 734h2v1h-2zM966 734h1v1h-1zM1081 734h1v1h-1zM185 735h8v1h-8zM201 735h6v1h-6zM215 735h1v1h-1zM246 735h1v1h-1zM319 735h2v1h-2zM436 735h1v1h-1zM441 735h3v1h-3zM456 735h1v1h-1zM698 735h1v1h-1zM960 735h2v1h-2zM966 735h1v1h-1zM1081 735h1v1h-1zM215 736h1v1h-1zM229 736h2v1h-2zM244 736h2v1h-2zM321 736h3v1h-3zM435 736h1v1h-1zM444 736h3v1h-3zM455 736h1v1h-1zM699 736h1v1h-1zM941 736h12v1h-12zM958 736h2v1h-2zM967 736h1v1h-1zM1080 736h1v1h-1zM216 737h1v1h-1zM228 737h1v1h-1zM231 737h2v1h-2zM241 737h3v1h-3zM324 737h11v1h-11zM434 737h1v1h-1zM447 737h4v1h-4zM454 737h1v1h-1zM700 737h1v1h-1zM773 737h1v1h-1zM828 737h3v1h-3zM940 737h1v1h-1zM953 737h5v1h-5zM967 737h1v1h-1zM1053 737h2v1h-2zM1079 737h1v1h-1zM217 738h1v1h-1zM227 738h1v1h-1zM233 738h3v1h-3zM239 738h2v1h-2zM335 738h2v1h-2zM433 738h1v1h-1zM451 738h3v1h-3zM701 738h1v1h-1zM747 738h6v1h-6zM772 738h1v1h-1zM774 738h2v1h-2zM825 738h3v1h-3zM831 738h2v1h-2zM940 738h1v1h-1zM968 738h1v1h-1zM1052 738h1v1h-1zM1055 738h4v1h-4zM1078 738h1v1h-1zM218 739h1v1h-1zM225 739h2v1h-2zM236 739h3v1h-3zM337 739h3v1h-3zM433 739h1v1h-1zM702 739h1v1h-1zM743 739h4v1h-4zM753 739h5v1h-5zM771 739h1v1h-1zM776 739h1v1h-1zM823 739h2v1h-2zM833 739h3v1h-3zM939 739h1v1h-1zM968 739h1v1h-1zM1052 739h1v1h-1zM1059 739h14v1h-14zM1078 739h1v1h-1zM219 740h1v1h-1zM224 740h1v1h-1zM340 740h2v1h-2zM432 740h1v1h-1zM703 740h2v1h-2zM741 740h2v1h-2zM758 740h2v1h-2zM769 740h2v1h-2zM777 740h2v1h-2zM821 740h2v1h-2zM836 740h2v1h-2zM938 740h1v1h-1zM969 740h1v1h-1zM1051 740h1v1h-1zM1073 740h5v1h-5zM219 741h1v1h-1zM223 741h1v1h-1zM342 741h2v1h-2zM431 741h1v1h-1zM705 741h1v1h-1zM739 741h2v1h-2zM760 741h1v1h-1zM768 741h1v1h-1zM779 741h2v1h-2zM820 741h1v1h-1zM838 741h1v1h-1zM937 741h1v1h-1zM970 741h1v1h-1zM1050 741h1v1h-1zM220 742h1v1h-1zM222 742h1v1h-1zM344 742h1v1h-1zM420 742h3v1h-3zM430 742h1v1h-1zM706 742h1v1h-1zM737 742h2v1h-2zM761 742h2v1h-2zM767 742h1v1h-1zM781 742h1v1h-1zM819 742h1v1h-1zM838 742h1v1h-1zM937 742h1v1h-1zM970 742h1v1h-1zM1050 742h1v1h-1zM221 743h1v1h-1zM345 743h2v1h-2zM417 743h3v1h-3zM423 743h4v1h-4zM430 743h1v1h-1zM707 743h2v1h-2zM736 743h1v1h-1zM763 743h2v1h-2zM766 743h1v1h-1zM782 743h1v1h-1zM818 743h1v1h-1zM839 743h1v1h-1zM936 743h1v1h-1zM971 743h1v1h-1zM1049 743h1v1h-1zM347 744h2v1h-2zM415 744h2v1h-2zM427 744h3v1h-3zM709 744h1v1h-1zM725 744h4v1h-4zM734 744h2v1h-2zM765 744h1v1h-1zM782 744h1v1h-1zM817 744h1v1h-1zM840 744h1v1h-1zM935 744h1v1h-1zM971 744h1v1h-1zM1048 744h1v1h-1zM349 745h1v1h-1zM409 745h6v1h-6zM710 745h1v1h-1zM724 745h1v1h-1zM729 745h5v1h-5zM783 745h1v1h-1zM816 745h1v1h-1zM840 745h1v1h-1zM925 745h2v1h-2zM934 745h1v1h-1zM972 745h1v1h-1zM1048 745h1v1h-1zM350 746h1v1h-1zM403 746h6v1h-6zM711 746h1v1h-1zM723 746h1v1h-1zM784 746h1v1h-1zM815 746h1v1h-1zM841 746h1v1h-1zM923 746h2v1h-2zM927 746h4v1h-4zM934 746h1v1h-1zM972 746h1v1h-1zM1047 746h1v1h-1zM350 747h1v1h-1zM399 747h4v1h-4zM711 747h1v1h-1zM723 747h1v1h-1zM785 747h1v1h-1zM814 747h1v1h-1zM842 747h1v1h-1zM922 747h1v1h-1zM931 747h3v1h-3zM973 747h1v1h-1zM1046 747h1v1h-1zM351 748h1v1h-1zM397 748h2v1h-2zM712 748h1v1h-1zM722 748h1v1h-1zM785 748h1v1h-1zM813 748h1v1h-1zM842 748h1v1h-1zM921 748h1v1h-1zM974 748h1v1h-1zM1046 748h1v1h-1zM351 749h1v1h-1zM373 749h4v1h-4zM395 749h2v1h-2zM713 749h1v1h-1zM721 749h1v1h-1zM786 749h1v1h-1zM811 749h2v1h-2zM843 749h1v1h-1zM919 749h2v1h-2zM974 749h1v1h-1zM1045 749h1v1h-1zM352 750h1v1h-1zM372 750h1v1h-1zM377 750h6v1h-6zM393 750h2v1h-2zM714 750h1v1h-1zM720 750h1v1h-1zM787 750h1v1h-1zM810 750h1v1h-1zM844 750h1v1h-1zM918 750h1v1h-1zM975 750h1v1h-1zM1044 750h1v1h-1zM353 751h1v1h-1zM371 751h1v1h-1zM383 751h2v1h-2zM392 751h1v1h-1zM715 751h1v1h-1zM719 751h1v1h-1zM788 751h1v1h-1zM809 751h1v1h-1zM844 751h1v1h-1zM917 751h1v1h-1zM975 751h1v1h-1zM1043 751h1v1h-1zM353 752h1v1h-1zM369 752h2v1h-2zM385 752h3v1h-3zM390 752h2v1h-2zM715 752h1v1h-1zM719 752h1v1h-1zM788 752h1v1h-1zM807 752h2v1h-2zM845 752h4v1h-4zM916 752h1v1h-1zM976 752h1v1h-1zM1042 752h1v1h-1zM354 753h1v1h-1zM368 753h1v1h-1zM388 753h2v1h-2zM716 753h1v1h-1zM718 753h1v1h-1zM789 753h2v1h-2zM806 753h1v1h-1zM849 753h5v1h-5zM915 753h1v1h-1zM977 753h1v1h-1zM1041 753h1v1h-1zM355 754h1v1h-1zM367 754h1v1h-1zM717 754h1v1h-1zM791 754h4v1h-4zM801 754h5v1h-5zM854 754h1v1h-1zM914 754h1v1h-1zM977 754h1v1h-1zM1041 754h1v1h-1zM355 755h1v1h-1zM366 755h1v1h-1zM795 755h6v1h-6zM855 755h1v1h-1zM913 755h1v1h-1zM978 755h1v1h-1zM1040 755h1v1h-1zM356 756h1v1h-1zM363 756h3v1h-3zM856 756h1v1h-1zM912 756h1v1h-1zM979 756h1v1h-1zM1021 756h4v1h-4zM1039 756h1v1h-1zM356 757h1v1h-1zM359 757h4v1h-4zM857 757h1v1h-1zM911 757h1v1h-1zM979 757h1v1h-1zM1019 757h2v1h-2zM1025 757h8v1h-8zM1038 757h1v1h-1zM357 758h2v1h-2zM857 758h1v1h-1zM876 758h2v1h-2zM901 758h4v1h-4zM910 758h1v1h-1zM980 758h1v1h-1zM1017 758h2v1h-2zM1033 758h5v1h-5zM858 759h1v1h-1zM874 759h2v1h-2zM878 759h2v1h-2zM900 759h1v1h-1zM905 759h5v1h-5zM980 759h1v1h-1zM1016 759h1v1h-1zM859 760h1v1h-1zM872 760h2v1h-2zM880 760h2v1h-2zM899 760h1v1h-1zM981 760h2v1h-2zM1014 760h2v1h-2zM860 761h1v1h-1zM870 761h2v1h-2zM882 761h2v1h-2zM898 761h1v1h-1zM983 761h2v1h-2zM1013 761h1v1h-1zM861 762h9v1h-9zM884 762h2v1h-2zM897 762h1v1h-1zM985 762h3v1h-3zM1011 762h2v1h-2zM886 763h2v1h-2zM897 763h1v1h-1zM988 763h3v1h-3zM1010 763h1v1h-1zM888 764h1v1h-1zM896 764h1v1h-1zM991 764h4v1h-4zM1009 764h1v1h-1zM889 765h2v1h-2zM895 765h1v1h-1zM995 765h4v1h-4zM1007 765h2v1h-2zM891 766h2v1h-2zM894 766h1v1h-1zM999 766h4v1h-4zM1006 766h1v1h-1zM893 767h1v1h-1zM1003 767h3v1h-3z" fill="#1e90ff"/>
</g>
<text x="8.8" y="683" font-size="10" fill="#000" textLength="32.5" lengthAdjust="spacingAndGlyphs" stroke="#000" stroke-width="0.15">RSI(14)</text>
<text x="43.4" y="683" font-size="10" fill="#000" textLength="33.8" lengthAdjust="spacingAndGlyphs" stroke="#000" stroke-width="0.15">56.1018</text>
<rect x="1421" y="672" width="2" height="1" fill="#000"/>
<text x="1423.6" y="681" font-size="10" fill="#000" textLength="15.2" lengthAdjust="spacingAndGlyphs" stroke="#000" stroke-width="0.15">100</text>
<rect x="1421" y="710" width="2" height="1" fill="#000"/>
<text x="1423.6" y="714" font-size="10" fill="#000" textLength="9.8" lengthAdjust="spacingAndGlyphs" stroke="#000" stroke-width="0.15">70</text>
<rect x="1421" y="761" width="2" height="1" fill="#000"/>
<text x="1423.6" y="765" font-size="10" fill="#000" textLength="9.8" lengthAdjust="spacingAndGlyphs" stroke="#000" stroke-width="0.15">30</text>
<rect x="1421" y="799" width="2" height="1" fill="#000"/>
<text x="1423.6" y="797" font-size="10" fill="#000" textLength="5.6" lengthAdjust="spacingAndGlyphs" stroke="#000" stroke-width="0.15">0</text>
<rect x="5" y="801" width="1" height="3" fill="#000"/>
<text x="4.2" y="813" font-size="10" fill="#000" textLength="50" lengthAdjust="spacingAndGlyphs" stroke="#000" stroke-width="0.15">28 Jan 2019</text>
<rect x="69" y="801" width="1" height="3" fill="#000"/>
<text x="68.2" y="813" font-size="10" fill="#000" textLength="48" lengthAdjust="spacingAndGlyphs" stroke="#000" stroke-width="0.15">6 Feb 2019</text>
<rect x="133" y="801" width="1" height="3" fill="#000"/>
<text x="132.2" y="813" font-size="10" fill="#000" textLength="52" lengthAdjust="spacingAndGlyphs" stroke="#000" stroke-width="0.15">15 Feb 2019</text>
<rect x="197" y="801" width="1" height="3" fill="#000"/>
<text x="196.2" y="813" font-size="10" fill="#000" textLength="53" lengthAdjust="spacingAndGlyphs" stroke="#000" stroke-width="0.15">25 Feb 2019</text>
<rect x="261" y="801" width="1" height="3" fill="#000"/>
<text x="260.2" y="813" font-size="10" fill="#000" textLength="47.5" lengthAdjust="spacingAndGlyphs" stroke="#000" stroke-width="0.15">6 Mar 2019</text>
<rect x="325" y="801" width="1" height="3" fill="#000"/>
<text x="324.2" y="813" font-size="10" fill="#000" textLength="52" lengthAdjust="spacingAndGlyphs" stroke="#000" stroke-width="0.15">15 Mar 2019</text>
<rect x="389" y="801" width="1" height="3" fill="#000"/>
<text x="388.2" y="813" font-size="10" fill="#000" textLength="53" lengthAdjust="spacingAndGlyphs" stroke="#000" stroke-width="0.15">25 Mar 2019</text>
<rect x="453" y="801" width="1" height="3" fill="#000"/>
<text x="452.2" y="813" font-size="10" fill="#000" textLength="46.5" lengthAdjust="spacingAndGlyphs" stroke="#000" stroke-width="0.15">3 Apr 2019</text>
<rect x="517" y="801" width="1" height="3" fill="#000"/>
<text x="516.2" y="813" font-size="10" fill="#000" textLength="52" lengthAdjust="spacingAndGlyphs" stroke="#000" stroke-width="0.15">12 Apr 2019</text>
<rect x="581" y="801" width="1" height="3" fill="#000"/>
<text x="580.2" y="813" font-size="10" fill="#000" textLength="52" lengthAdjust="spacingAndGlyphs" stroke="#000" stroke-width="0.15">23 Apr 2019</text>
<rect x="645" y="801" width="1" height="3" fill="#000"/>
<text x="644.2" y="813" font-size="10" fill="#000" textLength="50.5" lengthAdjust="spacingAndGlyphs" stroke="#000" stroke-width="0.15">2 May 2019</text>
<rect x="709" y="801" width="1" height="3" fill="#000"/>
<text x="708.2" y="813" font-size="10" fill="#000" textLength="55" lengthAdjust="spacingAndGlyphs" stroke="#000" stroke-width="0.15">12 May 2019</text>
<rect x="773" y="801" width="1" height="3" fill="#000"/>
<text x="772.2" y="813" font-size="10" fill="#000" textLength="55.75" lengthAdjust="spacingAndGlyphs" stroke="#000" stroke-width="0.15">21 May 2019</text>
<rect x="837" y="801" width="1" height="3" fill="#000"/>
<text x="836.2" y="813" font-size="10" fill="#000" textLength="55.75" lengthAdjust="spacingAndGlyphs" stroke="#000" stroke-width="0.15">30 May 2019</text>
<rect x="901" y="801" width="1" height="3" fill="#000"/>
<text x="900.2" y="813" font-size="10" fill="#000" textLength="46" lengthAdjust="spacingAndGlyphs" stroke="#000" stroke-width="0.15">9 Jun 2019</text>
<rect x="965" y="801" width="1" height="3" fill="#000"/>
<text x="964.2" y="813" font-size="10" fill="#000" textLength="50" lengthAdjust="spacingAndGlyphs" stroke="#000" stroke-width="0.15">18 Jun 2019</text>
<rect x="1029" y="801" width="1" height="3" fill="#000"/>
<text x="1028.2" y="813" font-size="10" fill="#000" textLength="51" lengthAdjust="spacingAndGlyphs" stroke="#000" stroke-width="0.15">27 Jun 2019</text>
<rect x="1093" y="801" width="1" height="3" fill="#000"/>
<text x="1092.2" y="813" font-size="10" fill="#000" textLength="42.75" lengthAdjust="spacingAndGlyphs" stroke="#000" stroke-width="0.15">7 Jul 2019</text>
<rect x="1420" y="801" width="1" height="3" fill="#000"/>
<rect x="2" y="821" width="1460" height="1" fill="#e3e3e3"/>
<rect x="0" y="822" width="2" height="1" fill="#ffffff"/>
<rect x="0" y="823" width="1460" height="1" fill="#000"/>
<rect x="0" y="824" width="1460" height="19" fill="#f0f0f0"/>
<rect x="0" y="843" width="1460" height="3" fill="#f7f7f7"/>
<rect x="0" y="846" width="1460" height="2" fill="#a0a0a0"/>
<rect x="0" y="824" width="2" height="19" fill="#a0a0a0"/>
<rect x="0" y="824" width="1" height="19" fill="#909090"/>
<rect x="222" y="823" width="108" height="19" fill="#000"/>
<rect x="223" y="823" width="106" height="18" fill="#ffffff"/>
<text x="17.0" y="838" font-size="12.5" fill="#6d6d6d" textLength="85.4" lengthAdjust="spacingAndGlyphs">EURUSD-,Daily</text>
<text x="123.2" y="838" font-size="12.5" fill="#6d6d6d" textLength="88.6" lengthAdjust="spacingAndGlyphs">AUDUSD-,Daily</text>
<text x="233.2" y="838" font-size="12.5" fill="#000" textLength="85.6" lengthAdjust="spacingAndGlyphs">USDCHF-,Daily</text>
<text x="340.2" y="838" font-size="12.5" fill="#6d6d6d" textLength="87.6" lengthAdjust="spacingAndGlyphs">USDCAD-,Daily</text>
<text x="449.2" y="838" font-size="12.5" fill="#6d6d6d" textLength="89.6" lengthAdjust="spacingAndGlyphs">USDCNH-,Daily</text>
<text x="560.2" y="838" font-size="12.5" fill="#6d6d6d" textLength="98.3" lengthAdjust="spacingAndGlyphs">EURCHF-,Weekly</text>
<text x="680.2" y="838" font-size="12.5" fill="#6d6d6d" textLength="75.6" lengthAdjust="spacingAndGlyphs">XAUUSD-,H1</text>
<text x="776.7" y="838" font-size="12.5" fill="#6d6d6d" textLength="73.7" lengthAdjust="spacingAndGlyphs">GBPUSD-,H1</text>
<text x="872.2" y="838" font-size="12.5" fill="#6d6d6d" textLength="58.3" lengthAdjust="spacingAndGlyphs">UKOil-,H1</text>
<rect x="114" y="826" width="1" height="14" fill="#6e6e6e"/>
<rect x="438" y="826" width="1" height="14" fill="#6e6e6e"/>
<rect x="550" y="826" width="1" height="14" fill="#6e6e6e"/>
<rect x="670" y="826" width="1" height="14" fill="#6e6e6e"/>
<rect x="766" y="826" width="1" height="14" fill="#6e6e6e"/>
<rect x="862" y="826" width="1" height="14" fill="#6e6e6e"/>
<rect x="942" y="826" width="1" height="14" fill="#6e6e6e"/>
<polygon points="1439,829 1439,836 1436,832.5" fill="#a0a0a0"/>
<polygon points="1455,829 1455,836 1458,832.5" fill="#a0a0a0"/>
</svg></body></html>
